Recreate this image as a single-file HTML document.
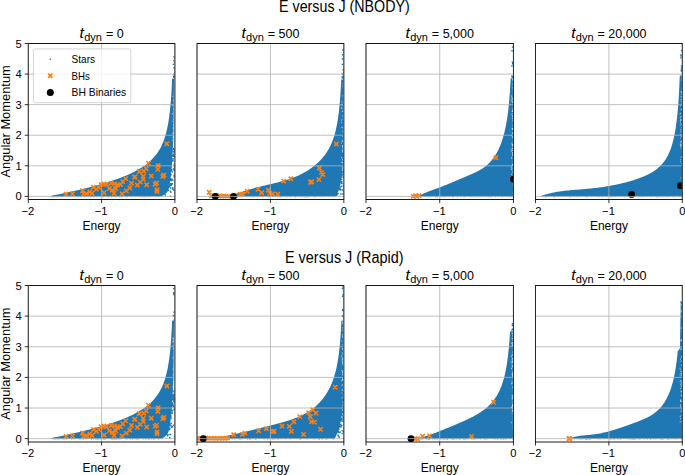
<!DOCTYPE html>
<html><head><meta charset="utf-8"><title>E versus J</title>
<style>html,body{margin:0;padding:0;background:#fff}body{width:685px;height:475px;position:relative;overflow:hidden;font-family:"Liberation Sans",sans-serif}</style></head>
<body>
<svg width="685" height="475" viewBox="0 0 685 475" style="position:absolute;left:0;top:0;font-family:'Liberation Sans',sans-serif" fill="#000">
<defs>
<clipPath id="c00"><rect x="28.3" y="43.5" width="146.6" height="156.0"/></clipPath>
<clipPath id="c01"><rect x="197.0" y="43.5" width="146.85000000000002" height="156.0"/></clipPath>
<clipPath id="c02"><rect x="366.0" y="43.5" width="147.45000000000005" height="156.0"/></clipPath>
<clipPath id="c03"><rect x="535.5" y="43.5" width="146.79999999999995" height="156.0"/></clipPath>
<clipPath id="c10"><rect x="28.3" y="285.5" width="146.6" height="156.5"/></clipPath>
<clipPath id="c11"><rect x="197.0" y="285.5" width="146.85000000000002" height="156.5"/></clipPath>
<clipPath id="c12"><rect x="366.0" y="285.5" width="147.45000000000005" height="156.5"/></clipPath>
<clipPath id="c13"><rect x="535.5" y="285.5" width="146.79999999999995" height="156.5"/></clipPath>
</defs>
<rect width="685" height="475" fill="#fff"/>
<g clip-path="url(#c00)">
<path d="M50.83 196.25 L52.42 195.46 L54.82 194.99 L57.95 194.38 L61.67 193.63 L65.84 192.78 L70.30 191.83 L74.94 190.81 L79.64 189.73 L84.30 188.63 L88.86 187.50 L93.25 186.36 L97.45 185.23 L101.42 184.11 L105.17 183.00 L108.68 181.91 L111.96 180.84 L115.02 179.80 L117.86 178.79 L120.51 177.80 L122.96 176.84 L125.25 175.91 L127.37 175.01 L129.34 174.13 L131.18 173.27 L132.89 172.44 L134.48 171.64 L135.97 170.85 L137.37 170.09 L138.67 169.35 L139.89 168.62 L141.04 167.92 L142.12 167.23 L143.13 166.56 L144.09 165.90 L144.99 165.26 L145.84 164.63 L146.65 164.02 L147.41 163.42 L148.14 162.83 L148.83 162.25 L150.55 160.72 L153.92 157.27 L156.47 154.16 L158.46 151.30 L160.05 148.64 L161.35 146.15 L162.44 143.79 L163.37 141.55 L164.16 139.41 L164.84 137.35 L165.44 135.37 L165.98 133.47 L166.45 131.62 L166.87 129.83 L167.25 128.09 L167.60 126.39 L167.91 124.74 L168.20 123.13 L168.46 121.56 L168.71 120.02 L168.93 118.51 L169.14 117.03 L169.33 115.58 L169.51 114.16 L169.68 112.76 L169.83 111.39 L169.98 110.04 L170.12 108.71 L170.25 107.40 L170.37 106.11 L170.49 104.84 L170.60 103.59 L170.70 102.35 L170.80 101.13 L170.90 99.93 L170.99 98.74 L171.07 97.57 L171.15 96.41 L171.23 95.26 L171.31 94.13 L171.38 93.01 L171.45 91.90 L171.51 90.81 L171.57 89.72 L171.63 88.65 L171.69 87.59 L171.75 86.53 L171.80 85.49 L171.85 84.46 L171.90 83.44 L171.95 82.42 L172.00 81.42 L172.04 80.43 L172.08 79.44 L172.13 78.46 L174.02 78.67 L173.43 138.30 L172.70 150.53 L171.97 165.82 L170.50 179.28 L169.18 187.23 L167.57 191.81 L164.64 194.87 L160.97 196.40 L50.83 196.40Z" fill="#1f77b4"/>
<path d="M119.44 196.67h1v0.8h-1zM113.89 196.40h1v0.8h-1zM157.86 196.22h1v0.8h-1zM144.88 196.34h1v0.8h-1zM66.22 196.26h1v0.8h-1zM84.31 196.61h1v0.8h-1zM70.23 196.49h1v0.8h-1zM120.70 196.39h1v0.8h-1zM110.66 196.23h1v0.8h-1zM56.89 196.30h1v0.8h-1zM125.27 196.41h1v0.8h-1zM84.93 196.49h1v0.8h-1zM100.24 196.35h1v0.8h-1zM137.83 196.55h1v0.8h-1zM77.21 196.49h1v0.8h-1zM108.18 196.64h1v0.8h-1zM130.67 196.34h1v0.8h-1zM158.29 196.26h1v0.8h-1zM96.38 196.58h1v0.8h-1zM67.07 196.44h1v0.8h-1zM54.65 196.53h1v0.8h-1zM134.54 196.49h1v0.8h-1zM146.76 196.36h1v0.8h-1zM126.91 196.50h1v0.8h-1zM114.20 196.43h1v0.8h-1zM142.85 196.67h1v0.8h-1zM102.55 196.53h1v0.8h-1zM57.01 196.55h1v0.8h-1zM121.61 196.70h1v0.8h-1zM140.86 196.34h1v0.8h-1zM92.82 196.53h1v0.8h-1zM52.81 196.43h1v0.8h-1zM68.84 196.26h1v0.8h-1zM56.82 196.58h1v0.8h-1zM64.57 196.32h1v0.8h-1zM93.39 196.64h1v0.8h-1zM59.20 196.42h1v0.8h-1zM110.85 196.64h1v0.8h-1zM140.57 196.63h1v0.8h-1zM81.00 196.41h1v0.8h-1zM89.85 196.64h1v0.8h-1zM155.82 196.28h1v0.8h-1zM69.74 196.32h1v0.8h-1zM76.03 196.44h1v0.8h-1zM115.22 196.33h1v0.8h-1zM50.78 196.41h1v0.8h-1zM91.00 196.48h1v0.8h-1zM155.31 196.55h1v0.8h-1zM107.11 196.51h1v0.8h-1zM124.81 196.23h1v0.8h-1zM149.41 196.59h1v0.8h-1zM146.65 196.60h1v0.8h-1zM93.55 196.40h1v0.8h-1zM61.73 196.52h1v0.8h-1zM57.18 196.23h1v0.8h-1zM73.32 196.28h1v0.8h-1zM87.78 196.23h1v0.8h-1zM50.35 196.28h1v0.8h-1zM61.50 196.38h1v0.8h-1zM53.14 196.64h1v0.8h-1zM117.96 196.27h1v0.8h-1zM78.11 196.37h1v0.8h-1zM90.44 196.26h1v0.8h-1zM143.83 196.70h1v0.8h-1zM101.65 196.44h1v0.8h-1zM59.79 196.25h1v0.8h-1zM88.07 196.33h1v0.8h-1zM141.62 196.28h1v0.8h-1zM52.87 196.68h1v0.8h-1zM108.51 196.27h1v0.8h-1z" fill="#1f77b4" opacity="0.55"/>
<path d="M173.33 67.04h1.4v1.4h-1.4zM173.40 56.05h1.4v1.4h-1.4zM173.15 59.91h1.4v1.4h-1.4zM173.02 75.96h1.4v1.4h-1.4zM173.09 76.65h1.4v1.4h-1.4zM173.39 75.56h1.4v1.4h-1.4zM172.74 63.65h1.4v1.4h-1.4zM173.27 73.75h1.4v1.4h-1.4zM170.84 169.12h1.4v1.4h-1.4zM173.79 169.86h1.4v1.4h-1.4zM172.95 153.46h1.4v1.4h-1.4zM169.96 182.92h1.4v1.4h-1.4zM171.85 187.53h1.4v1.4h-1.4zM172.82 169.64h1.4v1.4h-1.4zM169.97 179.57h1.4v1.4h-1.4zM173.85 155.99h1.4v1.4h-1.4zM173.26 153.98h1.4v1.4h-1.4zM173.03 155.66h1.4v1.4h-1.4zM170.47 184.61h1.4v1.4h-1.4zM169.84 178.30h1.4v1.4h-1.4zM164.73 194.33h1.4v1.4h-1.4zM171.66 183.02h1.4v1.4h-1.4zM172.53 148.90h1.4v1.4h-1.4zM173.87 149.85h1.4v1.4h-1.4zM172.39 148.97h1.4v1.4h-1.4zM169.16 184.91h1.4v1.4h-1.4zM168.92 186.08h1.4v1.4h-1.4zM173.47 165.17h1.4v1.4h-1.4zM172.38 154.58h1.4v1.4h-1.4zM173.09 163.75h1.4v1.4h-1.4zM170.13 191.55h1.4v1.4h-1.4zM173.23 151.19h1.4v1.4h-1.4zM172.23 159.00h1.4v1.4h-1.4zM172.06 186.97h1.4v1.4h-1.4zM172.57 179.43h1.4v1.4h-1.4zM172.47 148.16h1.4v1.4h-1.4zM173.57 176.06h1.4v1.4h-1.4zM171.62 160.24h1.4v1.4h-1.4zM167.70 189.48h1.4v1.4h-1.4zM173.30 151.43h1.4v1.4h-1.4zM172.21 188.55h1.4v1.4h-1.4zM173.00 147.74h1.4v1.4h-1.4zM171.28 178.56h1.4v1.4h-1.4zM167.52 189.29h1.4v1.4h-1.4zM172.97 148.20h1.4v1.4h-1.4zM173.56 169.94h1.4v1.4h-1.4zM173.15 174.47h1.4v1.4h-1.4zM171.89 155.28h1.4v1.4h-1.4zM169.61 183.38h1.4v1.4h-1.4zM170.93 183.93h1.4v1.4h-1.4zM170.17 183.01h1.4v1.4h-1.4zM172.96 189.29h1.4v1.4h-1.4zM170.91 178.39h1.4v1.4h-1.4zM173.46 167.16h1.4v1.4h-1.4zM173.40 175.12h1.4v1.4h-1.4zM171.74 171.16h1.4v1.4h-1.4zM170.73 170.09h1.4v1.4h-1.4zM170.48 174.17h1.4v1.4h-1.4zM169.73 195.51h1.4v1.4h-1.4zM169.82 187.27h1.4v1.4h-1.4zM172.39 160.22h1.4v1.4h-1.4zM171.01 179.75h1.4v1.4h-1.4zM172.89 168.52h1.4v1.4h-1.4zM169.63 190.51h1.4v1.4h-1.4zM169.53 183.54h1.4v1.4h-1.4zM172.34 157.91h1.4v1.4h-1.4zM172.80 168.22h1.4v1.4h-1.4zM172.43 151.05h1.4v1.4h-1.4z" fill="#1f77b4"/>
<path d="M172.88 128.06h0.8v1.2h-0.8zM172.60 136.66h0.8v1.2h-0.8zM172.84 141.78h0.8v1.2h-0.8zM172.24 139.58h0.8v1.2h-0.8zM172.34 120.64h0.8v1.2h-0.8zM173.24 99.84h0.8v1.2h-0.8zM172.24 132.60h0.8v1.2h-0.8zM173.42 108.59h0.8v1.2h-0.8zM172.97 170.10h0.8v1.2h-0.8zM173.27 174.30h0.8v1.2h-0.8zM172.64 174.25h0.8v1.2h-0.8zM172.31 113.39h0.8v1.2h-0.8zM172.57 167.29h0.8v1.2h-0.8zM173.41 123.98h0.8v1.2h-0.8zM172.20 104.92h0.8v1.2h-0.8zM172.22 161.71h0.8v1.2h-0.8zM172.91 146.41h0.8v1.2h-0.8zM172.40 95.75h0.8v1.2h-0.8zM172.99 166.68h0.8v1.2h-0.8zM173.12 136.36h0.8v1.2h-0.8zM173.15 163.75h0.8v1.2h-0.8zM173.59 118.68h0.8v1.2h-0.8zM172.97 133.07h0.8v1.2h-0.8zM173.13 178.96h0.8v1.2h-0.8zM172.87 127.09h0.8v1.2h-0.8zM172.18 175.01h0.8v1.2h-0.8zM172.20 113.01h0.8v1.2h-0.8zM173.23 171.54h0.8v1.2h-0.8z" fill="#fff" opacity="0.6"/>
<path d="M63.97 192.11l4.3 4.3M63.97 196.41l4.3 -4.3M70.35 191.65l4.3 4.3M70.35 195.95l4.3 -4.3M80.39 188.53l4.3 4.3M80.39 192.83l4.3 -4.3M81.49 191.65l4.3 4.3M81.49 195.95l4.3 -4.3M84.42 191.34l4.3 4.3M84.42 195.64l4.3 -4.3M87.72 189.66l4.3 4.3M87.72 193.96l4.3 -4.3M89.92 191.19l4.3 4.3M89.92 195.49l4.3 -4.3M91.39 185.08l4.3 4.3M91.39 189.38l4.3 -4.3M94.32 187.00l4.3 4.3M94.32 191.30l4.3 -4.3M96.66 185.26l4.3 4.3M96.66 189.56l4.3 -4.3M99.01 182.32l4.3 4.3M99.01 186.62l4.3 -4.3M101.94 181.71l4.3 4.3M101.94 186.01l4.3 -4.3M101.94 190.58l4.3 4.3M101.94 194.88l4.3 -4.3M104.29 182.32l4.3 4.3M104.29 186.62l4.3 -4.3M107.15 186.42l4.3 4.3M107.15 190.72l4.3 -4.3M108.98 181.10l4.3 4.3M108.98 185.40l4.3 -4.3M110.08 188.13l4.3 4.3M110.08 192.43l4.3 -4.3M111.91 191.19l4.3 4.3M111.91 195.49l4.3 -4.3M112.42 181.71l4.3 4.3M112.42 186.01l4.3 -4.3M113.60 186.42l4.3 4.3M113.60 190.72l4.3 -4.3M115.36 182.94l4.3 4.3M115.36 187.24l4.3 -4.3M118.29 182.32l4.3 4.3M118.29 186.62l4.3 -4.3M119.97 191.65l4.3 4.3M119.97 195.95l4.3 -4.3M120.63 179.42l4.3 4.3M120.63 183.72l4.3 -4.3M123.57 176.51l4.3 4.3M123.57 180.81l4.3 -4.3M124.15 188.75l4.3 4.3M124.15 193.05l4.3 -4.3M127.67 185.84l4.3 4.3M127.67 190.14l4.3 -4.3M129.36 181.10l4.3 4.3M129.36 185.40l4.3 -4.3M132.29 174.98l4.3 4.3M132.29 179.28l4.3 -4.3M146.36 160.98l4.3 4.3M146.36 165.28l4.3 -4.3M156.04 163.36l4.3 4.3M156.04 167.66l4.3 -4.3M155.67 167.19l4.3 4.3M155.67 171.49l4.3 -4.3M144.02 166.58l4.3 4.3M144.02 170.88l4.3 -4.3M141.67 168.87l4.3 4.3M141.67 173.17l4.3 -4.3M136.98 169.48l4.3 4.3M136.98 173.78l4.3 -4.3M141.08 174.19l4.3 4.3M141.08 178.49l4.3 -4.3M132.87 174.77l4.3 4.3M132.87 179.07l4.3 -4.3M149.07 173.82l4.3 4.3M149.07 178.12l4.3 -4.3M160.66 174.37l4.3 4.3M160.66 178.67l4.3 -4.3M161.75 172.84l4.3 4.3M161.75 177.14l4.3 -4.3M141.08 177.13l4.3 4.3M141.08 181.43l4.3 -4.3M138.15 180.00l4.3 4.3M138.15 184.30l4.3 -4.3M135.22 182.94l4.3 4.3M135.22 187.24l4.3 -4.3M144.53 182.69l4.3 4.3M144.53 186.99l4.3 -4.3M152.96 182.02l4.3 4.3M152.96 186.32l4.3 -4.3M154.43 180.79l4.3 4.3M154.43 185.09l4.3 -4.3M154.86 187.58l4.3 4.3M154.86 191.88l4.3 -4.3M154.86 189.36l4.3 4.3M154.86 193.66l4.3 -4.3M164.69 141.65l4.3 4.3M164.69 145.95l4.3 -4.3" stroke="#ff7f0e" stroke-width="1.6" fill="none"/>
</g>
<path d="M28.30 43.5V199.5M101.60 43.5V199.5M174.90 43.5V199.5M28.3 196.40H174.9M28.3 165.82H174.9M28.3 135.24H174.9M28.3 104.66H174.9M28.3 74.08H174.9M28.3 43.50H174.9" stroke="#b0b0b0" stroke-width="0.8" fill="none"/>
<path d="M28.3 43.5H174.9M28.3 199.5H174.9" stroke="#000" stroke-width="0.9" fill="none"/>
<path d="M28.3 43.1V199.9M174.9 43.1V199.9" stroke="#000" stroke-width="0.8" fill="none"/>
<path d="M28.30 199.5v3.6M101.60 199.5v3.6M174.90 199.5v3.6M28.3 196.40h-3.6M28.3 165.82h-3.6M28.3 135.24h-3.6M28.3 104.66h-3.6M28.3 74.08h-3.6M28.3 43.50h-3.6" stroke="#000" stroke-width="0.8" fill="none"/>
<text x="27.90" y="214.70" font-size="11.2" text-anchor="middle">−2</text>
<text x="101.20" y="214.70" font-size="11.2" text-anchor="middle">−1</text>
<text x="174.90" y="214.70" font-size="11.2" text-anchor="middle">0</text>
<text x="21.70" y="200.40" font-size="11.2" text-anchor="end">0</text>
<text x="21.70" y="169.82" font-size="11.2" text-anchor="end">1</text>
<text x="21.70" y="139.24" font-size="11.2" text-anchor="end">2</text>
<text x="21.70" y="108.66" font-size="11.2" text-anchor="end">3</text>
<text x="21.70" y="78.08" font-size="11.2" text-anchor="end">4</text>
<text x="21.70" y="47.50" font-size="11.2" text-anchor="end">5</text>
<text x="101.60" y="229.70" font-size="13" text-anchor="middle" textLength="38" lengthAdjust="spacingAndGlyphs">Energy</text>
<text x="101.60" y="37.9" font-size="12.5" text-anchor="middle"><tspan font-style="italic" font-size="15.5">t</tspan><tspan font-size="11" dy="2.6" dx="0.3">dyn</tspan><tspan dy="-2.6" dx="0.5"> = 0</tspan></text>
<g clip-path="url(#c01)">
<path d="M224.90 196.25 L226.54 196.03 L228.17 195.75 L229.78 195.42 L231.39 195.04 L232.98 194.62 L234.55 194.18 L236.12 193.72 L237.67 193.25 L239.21 192.77 L240.74 192.29 L242.26 191.80 L243.76 191.33 L245.25 190.86 L246.73 190.39 L248.20 189.94 L249.66 189.50 L251.10 189.07 L252.53 188.66 L253.95 188.26 L255.36 187.87 L256.75 187.49 L258.13 187.12 L259.50 186.77 L260.86 186.42 L262.21 186.09 L263.54 185.76 L264.86 185.45 L266.17 185.14 L267.47 184.83 L268.76 184.53 L270.03 184.23 L271.30 183.94 L272.55 183.65 L273.79 183.35 L275.01 183.06 L276.23 182.77 L277.43 182.47 L278.63 182.17 L279.81 181.87 L280.97 181.56 L282.13 181.25 L283.27 180.93 L284.41 180.61 L285.53 180.28 L286.64 179.94 L287.74 179.59 L288.82 179.24 L289.90 178.87 L290.96 178.50 L292.01 178.12 L293.06 177.73 L294.08 177.33 L295.10 176.92 L296.11 176.50 L297.10 176.07 L298.09 175.63 L299.06 175.19 L300.02 174.73 L300.97 174.26 L301.90 173.79 L302.83 173.30 L303.75 172.80 L304.65 172.30 L305.54 171.78 L306.42 171.26 L307.29 170.72 L308.15 170.18 L309.00 169.63 L309.84 169.07 L310.66 168.50 L311.48 167.92 L312.28 167.33 L313.08 166.73 L313.86 166.12 L314.63 165.50 L315.39 164.87 L316.14 164.24 L316.88 163.59 L317.60 162.93 L318.32 162.26 L319.02 161.58 L319.72 160.89 L320.40 160.19 L321.08 159.47 L321.74 158.74 L322.39 158.00 L323.03 157.24 L323.66 156.47 L324.28 155.69 L324.89 154.88 L325.49 154.06 L326.08 153.23 L326.66 152.37 L327.23 151.49 L327.78 150.59 L328.33 149.67 L328.87 148.73 L329.40 147.76 L329.91 146.76 L330.42 145.74 L330.91 144.68 L331.40 143.59 L331.87 142.47 L332.34 141.31 L332.80 140.11 L333.24 138.87 L333.68 137.59 L334.10 136.26 L334.52 134.88 L334.92 133.44 L335.32 131.95 L335.70 130.39 L336.08 128.77 L336.45 127.07 L336.80 125.30 L337.15 123.45 L337.49 121.50 L337.82 119.47 L338.14 117.32 L338.45 115.07 L338.75 112.69 L339.04 110.18 L339.32 107.53 L339.59 104.72 L339.85 101.73 L340.11 98.56 L340.35 95.19 L340.59 91.58 L340.82 87.73 L341.03 83.60 L341.24 79.43 L343.26 79.58 L343.26 150.53 L342.68 165.82 L341.50 179.58 L339.44 188.75 L336.14 196.40 L224.90 196.40Z" fill="#1f77b4"/>
<path d="M294.98 196.60h1v0.8h-1zM233.72 196.63h1v0.8h-1zM231.81 196.63h1v0.8h-1zM274.88 196.37h1v0.8h-1zM285.92 196.66h1v0.8h-1zM254.20 196.26h1v0.8h-1zM283.01 196.32h1v0.8h-1zM236.58 196.28h1v0.8h-1zM230.01 196.30h1v0.8h-1zM259.11 196.35h1v0.8h-1zM308.89 196.34h1v0.8h-1zM280.03 196.29h1v0.8h-1zM263.00 196.21h1v0.8h-1zM252.26 196.21h1v0.8h-1zM305.95 196.48h1v0.8h-1zM245.48 196.44h1v0.8h-1zM328.37 196.25h1v0.8h-1zM315.50 196.42h1v0.8h-1zM279.46 196.62h1v0.8h-1zM268.13 196.45h1v0.8h-1zM300.91 196.69h1v0.8h-1zM262.52 196.62h1v0.8h-1zM303.02 196.52h1v0.8h-1zM269.42 196.37h1v0.8h-1zM230.45 196.26h1v0.8h-1zM232.27 196.57h1v0.8h-1zM252.83 196.28h1v0.8h-1zM233.80 196.62h1v0.8h-1zM321.24 196.54h1v0.8h-1zM255.76 196.32h1v0.8h-1zM257.00 196.43h1v0.8h-1zM241.93 196.42h1v0.8h-1zM253.68 196.68h1v0.8h-1zM332.59 196.47h1v0.8h-1zM251.59 196.68h1v0.8h-1zM258.84 196.38h1v0.8h-1zM224.52 196.39h1v0.8h-1zM277.20 196.45h1v0.8h-1zM246.76 196.45h1v0.8h-1zM224.95 196.33h1v0.8h-1zM234.39 196.40h1v0.8h-1zM229.04 196.21h1v0.8h-1zM258.25 196.32h1v0.8h-1zM289.54 196.46h1v0.8h-1zM307.89 196.53h1v0.8h-1zM304.05 196.64h1v0.8h-1zM267.73 196.36h1v0.8h-1zM333.94 196.27h1v0.8h-1zM304.96 196.52h1v0.8h-1zM229.27 196.62h1v0.8h-1zM323.62 196.51h1v0.8h-1zM306.03 196.61h1v0.8h-1zM239.90 196.46h1v0.8h-1zM280.51 196.62h1v0.8h-1zM313.91 196.61h1v0.8h-1zM289.37 196.65h1v0.8h-1zM300.37 196.55h1v0.8h-1zM249.98 196.22h1v0.8h-1zM239.21 196.38h1v0.8h-1zM236.07 196.62h1v0.8h-1zM286.53 196.51h1v0.8h-1zM294.06 196.54h1v0.8h-1zM278.83 196.20h1v0.8h-1zM313.14 196.57h1v0.8h-1zM280.35 196.47h1v0.8h-1zM297.74 196.23h1v0.8h-1zM306.36 196.33h1v0.8h-1zM232.68 196.33h1v0.8h-1zM305.53 196.30h1v0.8h-1zM306.70 196.69h1v0.8h-1z" fill="#1f77b4" opacity="0.55"/>
<path d="M341.73 77.46h1.4v1.4h-1.4zM342.30 69.13h1.4v1.4h-1.4zM341.61 63.65h1.4v1.4h-1.4zM342.19 49.33h1.4v1.4h-1.4zM341.61 73.49h1.4v1.4h-1.4zM341.80 58.29h1.4v1.4h-1.4zM342.37 75.66h1.4v1.4h-1.4zM342.04 54.05h1.4v1.4h-1.4zM341.59 76.27h1.4v1.4h-1.4zM341.71 171.53h1.4v1.4h-1.4zM342.15 172.26h1.4v1.4h-1.4zM342.51 158.17h1.4v1.4h-1.4zM342.02 164.25h1.4v1.4h-1.4zM338.98 188.49h1.4v1.4h-1.4zM342.28 159.34h1.4v1.4h-1.4zM341.74 167.92h1.4v1.4h-1.4zM337.38 192.73h1.4v1.4h-1.4zM342.49 162.82h1.4v1.4h-1.4zM342.17 162.64h1.4v1.4h-1.4zM341.88 170.43h1.4v1.4h-1.4zM341.35 172.88h1.4v1.4h-1.4zM342.50 151.97h1.4v1.4h-1.4zM342.56 149.89h1.4v1.4h-1.4zM342.41 173.24h1.4v1.4h-1.4zM341.41 173.71h1.4v1.4h-1.4zM342.54 185.43h1.4v1.4h-1.4zM340.74 185.39h1.4v1.4h-1.4zM339.91 188.76h1.4v1.4h-1.4zM341.54 189.21h1.4v1.4h-1.4zM342.60 170.81h1.4v1.4h-1.4zM342.18 161.29h1.4v1.4h-1.4zM342.60 151.78h1.4v1.4h-1.4zM335.97 194.48h1.4v1.4h-1.4zM341.79 171.64h1.4v1.4h-1.4zM340.43 180.93h1.4v1.4h-1.4zM341.09 178.87h1.4v1.4h-1.4zM342.38 154.59h1.4v1.4h-1.4zM342.69 158.97h1.4v1.4h-1.4zM342.26 189.83h1.4v1.4h-1.4zM342.74 160.81h1.4v1.4h-1.4zM340.70 181.52h1.4v1.4h-1.4zM342.85 176.48h1.4v1.4h-1.4zM342.01 166.87h1.4v1.4h-1.4zM341.34 174.76h1.4v1.4h-1.4zM336.59 193.34h1.4v1.4h-1.4zM342.43 154.86h1.4v1.4h-1.4zM342.59 149.92h1.4v1.4h-1.4zM340.87 182.70h1.4v1.4h-1.4zM339.81 186.41h1.4v1.4h-1.4zM342.74 152.43h1.4v1.4h-1.4zM342.73 164.83h1.4v1.4h-1.4zM342.34 168.83h1.4v1.4h-1.4zM340.24 193.28h1.4v1.4h-1.4zM342.24 173.64h1.4v1.4h-1.4zM342.11 164.17h1.4v1.4h-1.4zM342.08 193.30h1.4v1.4h-1.4zM339.45 189.47h1.4v1.4h-1.4zM341.06 178.89h1.4v1.4h-1.4zM342.83 159.54h1.4v1.4h-1.4zM341.34 182.97h1.4v1.4h-1.4zM341.27 180.98h1.4v1.4h-1.4zM341.10 176.40h1.4v1.4h-1.4zM339.08 187.79h1.4v1.4h-1.4zM342.61 151.37h1.4v1.4h-1.4z" fill="#1f77b4"/>
<path d="M341.24 161.67h0.8v1.2h-0.8zM341.91 95.19h0.8v1.2h-0.8zM342.29 168.56h0.8v1.2h-0.8zM342.07 172.74h0.8v1.2h-0.8zM342.22 172.71h0.8v1.2h-0.8zM341.73 158.39h0.8v1.2h-0.8zM341.47 104.54h0.8v1.2h-0.8zM341.96 145.17h0.8v1.2h-0.8zM342.02 135.63h0.8v1.2h-0.8zM342.48 151.55h0.8v1.2h-0.8zM341.15 156.75h0.8v1.2h-0.8zM341.83 169.73h0.8v1.2h-0.8zM341.30 126.60h0.8v1.2h-0.8zM342.17 162.02h0.8v1.2h-0.8zM341.98 159.24h0.8v1.2h-0.8zM341.17 142.33h0.8v1.2h-0.8zM341.29 107.84h0.8v1.2h-0.8zM342.52 178.64h0.8v1.2h-0.8zM341.25 119.76h0.8v1.2h-0.8zM341.71 139.99h0.8v1.2h-0.8zM341.99 180.49h0.8v1.2h-0.8zM341.36 101.15h0.8v1.2h-0.8zM341.14 107.26h0.8v1.2h-0.8zM342.41 159.24h0.8v1.2h-0.8zM341.80 167.29h0.8v1.2h-0.8zM341.19 122.11h0.8v1.2h-0.8zM341.62 118.71h0.8v1.2h-0.8zM341.90 115.02h0.8v1.2h-0.8z" fill="#fff" opacity="0.6"/>
<path d="M343.20 119.03h1.2v1.2h-1.2zM342.98 98.42h1.2v1.2h-1.2zM342.49 86.14h1.2v1.2h-1.2zM343.10 141.15h1.2v1.2h-1.2zM342.50 145.79h1.2v1.2h-1.2zM343.12 105.90h1.2v1.2h-1.2zM342.63 162.00h1.2v1.2h-1.2zM342.79 116.23h1.2v1.2h-1.2zM342.54 148.31h1.2v1.2h-1.2zM342.90 167.34h1.2v1.2h-1.2zM342.12 127.14h1.2v1.2h-1.2zM342.21 110.72h1.2v1.2h-1.2zM342.97 125.84h1.2v1.2h-1.2zM342.12 146.22h1.2v1.2h-1.2zM342.89 105.36h1.2v1.2h-1.2zM342.66 166.33h1.2v1.2h-1.2zM342.76 108.05h1.2v1.2h-1.2zM342.47 145.31h1.2v1.2h-1.2zM342.98 85.67h1.2v1.2h-1.2zM342.85 165.23h1.2v1.2h-1.2zM342.45 130.72h1.2v1.2h-1.2zM342.31 150.59h1.2v1.2h-1.2zM342.66 102.28h1.2v1.2h-1.2zM342.11 149.95h1.2v1.2h-1.2zM342.29 140.44h1.2v1.2h-1.2zM342.99 147.67h1.2v1.2h-1.2zM342.90 100.37h1.2v1.2h-1.2zM342.67 83.28h1.2v1.2h-1.2zM342.99 151.55h1.2v1.2h-1.2zM342.47 131.04h1.2v1.2h-1.2zM343.08 83.56h1.2v1.2h-1.2zM343.00 133.14h1.2v1.2h-1.2zM343.08 81.30h1.2v1.2h-1.2zM343.18 163.65h1.2v1.2h-1.2z" fill="#fff" opacity="0.8"/>
<rect x="210.22" y="194.90" width="27.61" height="3.0" fill="#ff7f0e" opacity="0.85"/>
<path d="M209.22 194.01l4.0 4.0M209.22 198.01l4.0 -4.0M211.59 193.52l4.0 4.0M211.59 197.52l4.0 -4.0M213.77 193.40l4.0 4.0M213.77 197.40l4.0 -4.0M216.19 194.07l4.0 4.0M216.19 198.07l4.0 -4.0M217.71 193.46l4.0 4.0M217.71 197.46l4.0 -4.0M219.91 194.37l4.0 4.0M219.91 198.37l4.0 -4.0M222.01 194.02l4.0 4.0M222.01 198.02l4.0 -4.0M223.76 194.07l4.0 4.0M223.76 198.07l4.0 -4.0M225.26 194.40l4.0 4.0M225.26 198.40l4.0 -4.0M226.89 194.05l4.0 4.0M226.89 198.05l4.0 -4.0M229.34 194.28l4.0 4.0M229.34 198.28l4.0 -4.0M231.80 194.19l4.0 4.0M231.80 198.19l4.0 -4.0M233.53 193.58l4.0 4.0M233.53 197.58l4.0 -4.0" stroke="#ff7f0e" stroke-width="1.2" fill="none"/>
<path d="M207.04 190.15l4.3 4.3M207.04 194.45l4.3 -4.3M238.17 192.11l4.3 4.3M238.17 196.41l4.3 -4.3M240.37 192.11l4.3 4.3M240.37 196.41l4.3 -4.3M245.00 189.05l4.3 4.3M245.00 193.35l4.3 -4.3M255.79 187.06l4.3 4.3M255.79 191.36l4.3 -4.3M259.46 190.58l4.3 4.3M259.46 194.88l4.3 -4.3M266.07 188.13l4.3 4.3M266.07 192.43l4.3 -4.3M267.54 191.19l4.3 4.3M267.54 195.49l4.3 -4.3M270.48 191.80l4.3 4.3M270.48 196.10l4.3 -4.3M275.62 192.11l4.3 4.3M275.62 196.41l4.3 -4.3M281.71 178.96l4.3 4.3M281.71 183.26l4.3 -4.3M288.69 176.64l4.3 4.3M288.69 180.94l4.3 -4.3M308.29 180.18l4.3 4.3M308.29 184.48l4.3 -4.3M309.39 179.57l4.3 4.3M309.39 183.87l4.3 -4.3M316.74 177.43l4.3 4.3M316.74 181.73l4.3 -4.3M317.18 165.81l4.3 4.3M317.18 170.11l4.3 -4.3M319.31 170.24l4.3 4.3M319.31 174.54l4.3 -4.3M320.70 172.32l4.3 4.3M320.70 176.62l4.3 -4.3M334.21 141.81l4.3 4.3M334.21 146.11l4.3 -4.3" stroke="#ff7f0e" stroke-width="1.6" fill="none"/>
<circle cx="215.36" cy="196.40" r="3.4" fill="#000"/>
<circle cx="233.49" cy="196.40" r="3.4" fill="#000"/>
</g>
<path d="M197.00 43.5V199.5M270.43 43.5V199.5M343.85 43.5V199.5M197.0 196.40H343.85M197.0 165.82H343.85M197.0 135.24H343.85M197.0 104.66H343.85M197.0 74.08H343.85M197.0 43.50H343.85" stroke="#b0b0b0" stroke-width="0.8" fill="none"/>
<path d="M197.0 43.5H343.85M197.0 199.5H343.85" stroke="#000" stroke-width="0.9" fill="none"/>
<path d="M197.0 43.1V199.9M343.85 43.1V199.9" stroke="#000" stroke-width="0.8" fill="none"/>
<path d="M197.00 199.5v3.6M270.43 199.5v3.6M343.85 199.5v3.6" stroke="#000" stroke-width="0.8" fill="none"/>
<text x="196.60" y="214.70" font-size="11.2" text-anchor="middle">−2</text>
<text x="270.03" y="214.70" font-size="11.2" text-anchor="middle">−1</text>
<text x="343.85" y="214.70" font-size="11.2" text-anchor="middle">0</text>
<text x="270.43" y="229.70" font-size="13" text-anchor="middle" textLength="38" lengthAdjust="spacingAndGlyphs">Energy</text>
<text x="270.43" y="37.9" font-size="12.5" text-anchor="middle"><tspan font-style="italic" font-size="15.5">t</tspan><tspan font-size="11" dy="2.6" dx="0.3">dyn</tspan><tspan dy="-2.6" dx="0.5"> = 500</tspan></text>
<g clip-path="url(#c02)">
<path d="M418.34 196.25 L419.66 195.47 L420.96 194.77 L422.25 194.13 L423.53 193.54 L424.80 192.99 L426.06 192.47 L427.31 191.98 L428.56 191.51 L429.79 191.06 L431.01 190.61 L432.22 190.17 L433.42 189.74 L434.62 189.31 L435.80 188.87 L436.97 188.44 L438.14 188.01 L439.29 187.57 L440.43 187.14 L441.57 186.70 L442.69 186.26 L443.81 185.81 L444.91 185.37 L446.01 184.92 L447.10 184.48 L448.17 184.03 L449.24 183.59 L450.30 183.15 L451.34 182.71 L452.38 182.27 L453.41 181.83 L454.43 181.40 L455.44 180.98 L456.44 180.55 L457.43 180.14 L458.41 179.72 L459.38 179.31 L460.35 178.91 L461.30 178.51 L462.24 178.12 L463.18 177.73 L464.10 177.34 L465.02 176.96 L465.92 176.58 L466.82 176.21 L467.71 175.83 L468.59 175.46 L469.45 175.09 L470.31 174.72 L471.16 174.35 L472.01 173.98 L472.84 173.61 L473.66 173.23 L474.47 172.85 L475.28 172.47 L476.07 172.08 L476.86 171.69 L477.64 171.29 L478.40 170.88 L479.16 170.47 L479.91 170.04 L480.65 169.61 L481.39 169.17 L482.11 168.71 L482.82 168.24 L483.53 167.76 L484.22 167.27 L484.91 166.76 L485.59 166.23 L486.26 165.70 L486.92 165.14 L487.57 164.57 L488.21 163.98 L488.84 163.37 L489.47 162.75 L490.09 162.11 L490.69 161.44 L491.29 160.76 L491.88 160.06 L492.46 159.34 L493.04 158.59 L493.60 157.83 L494.16 157.04 L494.70 156.23 L495.24 155.40 L495.77 154.54 L496.29 153.66 L496.81 152.76 L497.31 151.83 L497.81 150.88 L498.29 149.90 L498.77 148.89 L499.24 147.86 L499.71 146.80 L500.16 145.71 L500.61 144.59 L501.04 143.44 L501.47 142.26 L501.89 141.05 L502.31 139.80 L502.71 138.52 L503.11 137.20 L503.49 135.85 L503.87 134.45 L504.25 133.01 L504.61 131.53 L504.97 130.00 L505.32 128.42 L505.66 126.79 L505.99 125.10 L506.31 123.36 L506.63 121.55 L506.94 119.67 L507.24 117.73 L507.53 115.70 L507.82 113.60 L508.09 111.40 L508.37 109.11 L508.63 106.71 L508.88 104.20 L509.13 101.57 L509.37 98.81 L509.60 95.90 L509.83 92.84 L510.05 89.60 L510.26 86.18 L510.46 82.54 L510.65 78.68 L510.84 78.21 L512.86 78.36 L512.86 187.23 L512.57 196.40 L418.34 196.40Z" fill="#1f77b4"/>
<path d="M442.06 196.57h1v0.8h-1zM502.51 196.37h1v0.8h-1zM443.50 196.68h1v0.8h-1zM475.98 196.33h1v0.8h-1zM485.37 196.36h1v0.8h-1zM443.81 196.20h1v0.8h-1zM489.04 196.66h1v0.8h-1zM477.58 196.67h1v0.8h-1zM420.13 196.32h1v0.8h-1zM462.62 196.68h1v0.8h-1zM507.72 196.39h1v0.8h-1zM441.50 196.41h1v0.8h-1zM464.34 196.66h1v0.8h-1zM435.08 196.60h1v0.8h-1zM487.43 196.61h1v0.8h-1zM490.66 196.50h1v0.8h-1zM448.73 196.36h1v0.8h-1zM451.94 196.59h1v0.8h-1zM425.29 196.30h1v0.8h-1zM488.78 196.32h1v0.8h-1zM423.94 196.22h1v0.8h-1zM469.91 196.36h1v0.8h-1zM510.20 196.64h1v0.8h-1zM510.92 196.33h1v0.8h-1zM425.77 196.25h1v0.8h-1zM464.81 196.55h1v0.8h-1zM459.96 196.32h1v0.8h-1zM457.12 196.51h1v0.8h-1zM481.36 196.57h1v0.8h-1zM497.65 196.53h1v0.8h-1zM429.26 196.62h1v0.8h-1zM445.53 196.48h1v0.8h-1zM452.99 196.57h1v0.8h-1zM436.61 196.32h1v0.8h-1zM440.96 196.28h1v0.8h-1zM501.15 196.49h1v0.8h-1zM448.59 196.40h1v0.8h-1zM511.35 196.45h1v0.8h-1zM439.65 196.60h1v0.8h-1zM479.40 196.70h1v0.8h-1zM427.49 196.44h1v0.8h-1zM495.02 196.62h1v0.8h-1zM504.00 196.22h1v0.8h-1zM445.52 196.26h1v0.8h-1zM435.71 196.69h1v0.8h-1zM472.79 196.67h1v0.8h-1zM452.92 196.63h1v0.8h-1zM460.16 196.33h1v0.8h-1zM491.13 196.67h1v0.8h-1zM427.81 196.50h1v0.8h-1zM476.26 196.31h1v0.8h-1zM452.58 196.27h1v0.8h-1zM437.06 196.33h1v0.8h-1zM474.32 196.53h1v0.8h-1zM437.01 196.21h1v0.8h-1zM448.68 196.54h1v0.8h-1zM435.29 196.36h1v0.8h-1zM437.01 196.60h1v0.8h-1zM469.48 196.23h1v0.8h-1zM427.40 196.40h1v0.8h-1zM469.68 196.52h1v0.8h-1zM426.43 196.28h1v0.8h-1zM483.37 196.40h1v0.8h-1zM444.54 196.35h1v0.8h-1zM507.65 196.36h1v0.8h-1zM471.22 196.38h1v0.8h-1zM457.08 196.63h1v0.8h-1zM511.75 196.38h1v0.8h-1zM436.43 196.56h1v0.8h-1zM437.03 196.20h1v0.8h-1z" fill="#1f77b4" opacity="0.55"/>
<path d="M511.97 62.98h1.4v1.4h-1.4zM511.68 61.59h1.4v1.4h-1.4zM511.84 46.45h1.4v1.4h-1.4zM511.22 65.30h1.4v1.4h-1.4zM511.65 76.63h1.4v1.4h-1.4zM511.33 50.10h1.4v1.4h-1.4zM511.98 76.28h1.4v1.4h-1.4zM511.20 75.54h1.4v1.4h-1.4zM512.12 187.75h1.4v1.4h-1.4zM512.21 191.34h1.4v1.4h-1.4zM512.14 188.56h1.4v1.4h-1.4zM512.16 190.38h1.4v1.4h-1.4zM512.42 189.50h1.4v1.4h-1.4zM512.39 193.09h1.4v1.4h-1.4zM512.34 187.86h1.4v1.4h-1.4zM512.18 186.75h1.4v1.4h-1.4zM512.10 189.68h1.4v1.4h-1.4zM512.13 193.69h1.4v1.4h-1.4zM512.32 193.83h1.4v1.4h-1.4zM512.22 189.94h1.4v1.4h-1.4zM512.15 194.56h1.4v1.4h-1.4zM512.23 186.91h1.4v1.4h-1.4z" fill="#1f77b4"/>
<path d="M511.98 171.34h0.8v1.2h-0.8zM512.03 143.64h0.8v1.2h-0.8zM511.41 142.67h0.8v1.2h-0.8zM511.23 177.02h0.8v1.2h-0.8zM511.08 173.47h0.8v1.2h-0.8zM511.41 113.93h0.8v1.2h-0.8zM511.42 175.86h0.8v1.2h-0.8zM510.76 148.16h0.8v1.2h-0.8zM510.90 168.85h0.8v1.2h-0.8zM511.09 95.22h0.8v1.2h-0.8zM511.88 110.73h0.8v1.2h-0.8zM511.44 96.45h0.8v1.2h-0.8zM510.81 98.60h0.8v1.2h-0.8zM511.00 166.37h0.8v1.2h-0.8zM512.07 100.83h0.8v1.2h-0.8zM511.05 150.46h0.8v1.2h-0.8zM510.84 166.92h0.8v1.2h-0.8zM510.96 156.96h0.8v1.2h-0.8zM511.42 168.22h0.8v1.2h-0.8zM511.86 101.74h0.8v1.2h-0.8zM511.42 158.00h0.8v1.2h-0.8zM512.11 153.19h0.8v1.2h-0.8zM511.93 164.92h0.8v1.2h-0.8zM511.16 100.33h0.8v1.2h-0.8zM511.92 103.84h0.8v1.2h-0.8zM512.00 113.31h0.8v1.2h-0.8zM511.23 135.07h0.8v1.2h-0.8zM510.88 149.70h0.8v1.2h-0.8z" fill="#fff" opacity="0.6"/>
<path d="M512.17 118.02h1.2v1.2h-1.2zM512.73 88.39h1.2v1.2h-1.2zM512.11 78.40h1.2v1.2h-1.2zM511.91 132.59h1.2v1.2h-1.2zM511.68 144.31h1.2v1.2h-1.2zM512.43 116.02h1.2v1.2h-1.2zM512.33 99.07h1.2v1.2h-1.2zM511.97 152.28h1.2v1.2h-1.2zM511.88 163.91h1.2v1.2h-1.2zM512.10 145.32h1.2v1.2h-1.2zM512.16 79.20h1.2v1.2h-1.2zM512.48 108.20h1.2v1.2h-1.2zM512.81 168.12h1.2v1.2h-1.2zM512.12 154.76h1.2v1.2h-1.2zM512.25 129.15h1.2v1.2h-1.2zM512.69 87.22h1.2v1.2h-1.2zM512.08 147.71h1.2v1.2h-1.2zM512.85 166.26h1.2v1.2h-1.2zM512.72 136.15h1.2v1.2h-1.2zM512.59 135.95h1.2v1.2h-1.2zM512.16 115.45h1.2v1.2h-1.2zM512.11 149.80h1.2v1.2h-1.2zM512.69 125.29h1.2v1.2h-1.2zM512.56 83.50h1.2v1.2h-1.2zM512.74 154.76h1.2v1.2h-1.2zM511.82 110.51h1.2v1.2h-1.2zM512.38 97.48h1.2v1.2h-1.2zM512.84 144.36h1.2v1.2h-1.2zM512.19 109.90h1.2v1.2h-1.2zM512.09 136.57h1.2v1.2h-1.2zM511.74 128.11h1.2v1.2h-1.2zM512.56 101.88h1.2v1.2h-1.2zM512.80 86.50h1.2v1.2h-1.2zM512.37 120.17h1.2v1.2h-1.2z" fill="#fff" opacity="0.8"/>
<path d="M411.03 194.25l4.3 4.3M411.03 198.55l4.3 -4.3M413.25 193.64l4.3 4.3M413.25 197.94l4.3 -4.3M414.72 194.25l4.3 4.3M414.72 198.55l4.3 -4.3M416.93 193.64l4.3 4.3M416.93 197.94l4.3 -4.3M493.68 155.63l4.3 4.3M493.68 159.93l4.3 -4.3" stroke="#ff7f0e" stroke-width="1.6" fill="none"/>
<circle cx="513.45" cy="179.18" r="3.4" fill="#000"/>
</g>
<path d="M366.00 43.5V199.5M439.73 43.5V199.5M513.45 43.5V199.5M366.0 196.40H513.45M366.0 165.82H513.45M366.0 135.24H513.45M366.0 104.66H513.45M366.0 74.08H513.45M366.0 43.50H513.45" stroke="#b0b0b0" stroke-width="0.8" fill="none"/>
<path d="M366.0 43.5H513.45M366.0 199.5H513.45" stroke="#000" stroke-width="0.9" fill="none"/>
<path d="M366.0 43.1V199.9M513.45 43.1V199.9" stroke="#000" stroke-width="0.8" fill="none"/>
<path d="M366.00 199.5v3.6M439.73 199.5v3.6M513.45 199.5v3.6" stroke="#000" stroke-width="0.8" fill="none"/>
<text x="365.60" y="214.70" font-size="11.2" text-anchor="middle">−2</text>
<text x="439.33" y="214.70" font-size="11.2" text-anchor="middle">−1</text>
<text x="513.45" y="214.70" font-size="11.2" text-anchor="middle">0</text>
<text x="439.73" y="229.70" font-size="13" text-anchor="middle" textLength="38" lengthAdjust="spacingAndGlyphs">Energy</text>
<text x="439.73" y="37.9" font-size="12.5" text-anchor="middle"><tspan font-style="italic" font-size="15.5">t</tspan><tspan font-size="11" dy="2.6" dx="0.3">dyn</tspan><tspan dy="-2.6" dx="0.5"> = 5,000</tspan></text>
<g clip-path="url(#c03)">
<path d="M540.64 196.25 L542.59 195.51 L544.53 194.84 L546.45 194.24 L548.36 193.70 L550.25 193.21 L552.13 192.78 L554.00 192.39 L555.85 192.04 L557.68 191.72 L559.50 191.44 L561.31 191.19 L563.10 190.96 L564.88 190.75 L566.64 190.56 L568.39 190.38 L570.12 190.22 L571.84 190.07 L573.54 189.92 L575.23 189.79 L576.91 189.65 L578.57 189.52 L580.21 189.39 L581.85 189.26 L583.46 189.13 L585.07 189.00 L586.66 188.86 L588.23 188.72 L589.79 188.57 L591.34 188.42 L592.87 188.26 L594.39 188.10 L595.89 187.92 L597.38 187.75 L598.86 187.56 L600.32 187.37 L601.77 187.17 L603.20 186.96 L604.62 186.75 L606.03 186.53 L607.42 186.30 L608.79 186.06 L610.16 185.82 L611.51 185.57 L612.84 185.32 L614.16 185.06 L615.47 184.79 L616.77 184.52 L618.05 184.24 L619.31 183.95 L620.57 183.67 L621.81 183.37 L623.03 183.07 L624.24 182.77 L625.44 182.46 L626.63 182.14 L627.80 181.82 L628.95 181.50 L630.10 181.17 L631.23 180.84 L632.35 180.50 L633.45 180.16 L634.54 179.81 L635.62 179.46 L636.68 179.10 L637.73 178.74 L638.76 178.37 L639.79 177.99 L640.80 177.61 L641.79 177.23 L642.78 176.83 L643.75 176.43 L644.71 176.02 L645.65 175.60 L646.58 175.17 L647.50 174.74 L648.40 174.29 L649.30 173.83 L650.17 173.36 L651.04 172.88 L651.89 172.39 L652.73 171.88 L653.56 171.36 L654.38 170.82 L655.18 170.27 L655.97 169.70 L656.74 169.11 L657.51 168.50 L658.26 167.87 L659.00 167.23 L659.72 166.55 L660.44 165.86 L661.14 165.14 L661.83 164.39 L662.50 163.62 L663.17 162.82 L663.82 161.98 L664.46 161.12 L665.09 160.22 L665.70 159.28 L666.30 158.31 L666.89 157.30 L667.47 156.24 L668.04 155.15 L668.59 154.00 L669.13 152.81 L669.66 151.57 L670.18 150.27 L670.69 148.92 L671.18 147.51 L671.67 146.03 L672.14 144.49 L672.60 142.87 L673.05 141.18 L673.48 139.41 L673.91 137.55 L674.32 135.60 L674.73 133.56 L675.12 131.41 L675.50 129.14 L675.87 126.76 L676.22 124.25 L676.57 121.60 L676.90 118.80 L677.23 115.84 L677.54 112.69 L677.84 109.36 L678.14 105.82 L678.42 102.04 L678.69 98.01 L678.95 93.70 L679.20 89.07 L679.43 84.11 L679.66 78.75 L679.88 75.46 L682.59 75.61 L682.59 196.40 L540.64 196.40Z" fill="#1f77b4"/>
<path d="M666.39 196.59h1v0.8h-1zM641.69 196.20h1v0.8h-1zM660.01 196.57h1v0.8h-1zM606.19 196.57h1v0.8h-1zM604.37 196.31h1v0.8h-1zM555.08 196.32h1v0.8h-1zM545.65 196.37h1v0.8h-1zM646.56 196.55h1v0.8h-1zM660.14 196.56h1v0.8h-1zM577.90 196.48h1v0.8h-1zM602.04 196.59h1v0.8h-1zM614.42 196.33h1v0.8h-1zM631.27 196.68h1v0.8h-1zM570.94 196.64h1v0.8h-1zM542.30 196.33h1v0.8h-1zM573.66 196.57h1v0.8h-1zM674.24 196.57h1v0.8h-1zM586.54 196.64h1v0.8h-1zM586.78 196.32h1v0.8h-1zM668.97 196.52h1v0.8h-1zM638.49 196.53h1v0.8h-1zM679.11 196.43h1v0.8h-1zM659.34 196.55h1v0.8h-1zM661.87 196.42h1v0.8h-1zM643.00 196.49h1v0.8h-1zM583.82 196.31h1v0.8h-1zM628.52 196.24h1v0.8h-1zM669.43 196.27h1v0.8h-1zM543.96 196.25h1v0.8h-1zM672.01 196.37h1v0.8h-1zM560.27 196.21h1v0.8h-1zM546.05 196.55h1v0.8h-1zM630.12 196.55h1v0.8h-1zM644.73 196.23h1v0.8h-1zM623.96 196.38h1v0.8h-1zM656.20 196.61h1v0.8h-1zM666.66 196.23h1v0.8h-1zM663.33 196.66h1v0.8h-1zM674.19 196.25h1v0.8h-1zM569.34 196.26h1v0.8h-1zM545.03 196.62h1v0.8h-1zM655.41 196.52h1v0.8h-1zM657.26 196.52h1v0.8h-1zM580.93 196.25h1v0.8h-1zM554.03 196.58h1v0.8h-1zM569.24 196.36h1v0.8h-1zM600.29 196.21h1v0.8h-1zM576.58 196.34h1v0.8h-1zM641.74 196.38h1v0.8h-1zM585.68 196.68h1v0.8h-1zM611.65 196.63h1v0.8h-1zM627.91 196.22h1v0.8h-1zM598.75 196.42h1v0.8h-1zM649.87 196.37h1v0.8h-1zM640.17 196.47h1v0.8h-1zM570.88 196.63h1v0.8h-1zM553.04 196.61h1v0.8h-1zM564.32 196.20h1v0.8h-1zM568.82 196.58h1v0.8h-1zM678.95 196.20h1v0.8h-1zM609.81 196.45h1v0.8h-1zM653.24 196.29h1v0.8h-1zM610.35 196.37h1v0.8h-1zM658.22 196.33h1v0.8h-1zM674.13 196.34h1v0.8h-1zM570.62 196.55h1v0.8h-1zM610.88 196.25h1v0.8h-1zM630.50 196.24h1v0.8h-1zM651.99 196.55h1v0.8h-1zM651.85 196.51h1v0.8h-1z" fill="#1f77b4" opacity="0.55"/>
<path d="M680.81 67.28h1.4v1.4h-1.4zM680.86 49.90h1.4v1.4h-1.4zM680.04 57.22h1.4v1.4h-1.4zM680.69 70.34h1.4v1.4h-1.4zM680.42 55.38h1.4v1.4h-1.4zM680.15 54.31h1.4v1.4h-1.4zM680.59 69.30h1.4v1.4h-1.4zM680.82 65.27h1.4v1.4h-1.4z" fill="#1f77b4"/>
<path d="M680.43 177.60h0.8v1.2h-0.8zM680.00 112.78h0.8v1.2h-0.8zM680.09 137.66h0.8v1.2h-0.8zM680.81 140.84h0.8v1.2h-0.8zM680.43 128.82h0.8v1.2h-0.8zM679.69 117.07h0.8v1.2h-0.8zM680.18 143.69h0.8v1.2h-0.8zM680.40 116.37h0.8v1.2h-0.8zM679.96 160.94h0.8v1.2h-0.8zM679.88 105.15h0.8v1.2h-0.8zM679.77 120.57h0.8v1.2h-0.8zM680.08 122.32h0.8v1.2h-0.8zM680.56 141.65h0.8v1.2h-0.8zM680.88 126.71h0.8v1.2h-0.8zM679.87 144.58h0.8v1.2h-0.8zM680.09 119.45h0.8v1.2h-0.8zM680.40 159.10h0.8v1.2h-0.8zM680.11 141.53h0.8v1.2h-0.8zM680.03 145.46h0.8v1.2h-0.8zM680.75 100.86h0.8v1.2h-0.8zM679.88 124.47h0.8v1.2h-0.8zM680.30 147.23h0.8v1.2h-0.8zM680.96 97.06h0.8v1.2h-0.8zM680.78 133.99h0.8v1.2h-0.8zM679.64 113.57h0.8v1.2h-0.8zM680.87 136.05h0.8v1.2h-0.8zM680.22 131.31h0.8v1.2h-0.8zM680.27 119.09h0.8v1.2h-0.8z" fill="#fff" opacity="0.6"/>
<path d="M680.73 108.65h1.2v1.2h-1.2zM681.22 119.62h1.2v1.2h-1.2zM681.45 79.86h1.2v1.2h-1.2zM681.24 104.45h1.2v1.2h-1.2zM681.56 97.14h1.2v1.2h-1.2zM681.28 76.46h1.2v1.2h-1.2zM681.38 163.00h1.2v1.2h-1.2zM681.68 131.00h1.2v1.2h-1.2zM681.21 129.24h1.2v1.2h-1.2zM681.29 103.15h1.2v1.2h-1.2zM681.44 143.55h1.2v1.2h-1.2zM680.60 99.12h1.2v1.2h-1.2zM681.44 119.12h1.2v1.2h-1.2zM681.24 93.52h1.2v1.2h-1.2zM681.55 148.50h1.2v1.2h-1.2zM680.75 95.84h1.2v1.2h-1.2zM681.15 109.12h1.2v1.2h-1.2zM681.43 115.86h1.2v1.2h-1.2zM681.29 78.38h1.2v1.2h-1.2zM680.74 108.70h1.2v1.2h-1.2zM681.15 92.15h1.2v1.2h-1.2zM681.06 140.82h1.2v1.2h-1.2zM680.72 156.60h1.2v1.2h-1.2zM680.70 135.19h1.2v1.2h-1.2zM681.26 143.34h1.2v1.2h-1.2zM681.20 144.63h1.2v1.2h-1.2zM681.70 150.94h1.2v1.2h-1.2zM681.37 100.96h1.2v1.2h-1.2zM681.35 145.43h1.2v1.2h-1.2zM681.20 123.55h1.2v1.2h-1.2zM680.93 108.84h1.2v1.2h-1.2zM680.61 134.47h1.2v1.2h-1.2zM681.63 88.58h1.2v1.2h-1.2zM680.64 91.06h1.2v1.2h-1.2z" fill="#fff" opacity="0.8"/>
<circle cx="631.65" cy="194.41" r="3.4" fill="#000"/>
<circle cx="680.39" cy="185.70" r="3.4" fill="#000"/>
</g>
<path d="M535.50 43.5V199.5M608.90 43.5V199.5M682.30 43.5V199.5M535.5 196.40H682.3M535.5 165.82H682.3M535.5 135.24H682.3M535.5 104.66H682.3M535.5 74.08H682.3M535.5 43.50H682.3" stroke="#b0b0b0" stroke-width="0.8" fill="none"/>
<path d="M535.5 43.5H682.3M535.5 199.5H682.3" stroke="#000" stroke-width="0.9" fill="none"/>
<path d="M535.5 43.1V199.9M682.3 43.1V199.9" stroke="#000" stroke-width="0.8" fill="none"/>
<path d="M535.50 199.5v3.6M608.90 199.5v3.6M682.30 199.5v3.6" stroke="#000" stroke-width="0.8" fill="none"/>
<text x="535.10" y="214.70" font-size="11.2" text-anchor="middle">−2</text>
<text x="608.50" y="214.70" font-size="11.2" text-anchor="middle">−1</text>
<text x="682.30" y="214.70" font-size="11.2" text-anchor="middle">0</text>
<text x="608.90" y="229.70" font-size="13" text-anchor="middle" textLength="38" lengthAdjust="spacingAndGlyphs">Energy</text>
<text x="608.90" y="37.9" font-size="12.5" text-anchor="middle"><tspan font-style="italic" font-size="15.5">t</tspan><tspan font-size="11" dy="2.6" dx="0.3">dyn</tspan><tspan dy="-2.6" dx="0.5"> = 20,000</tspan></text>
<text transform="translate(9.7 121.4) rotate(-90)" font-size="12.2" text-anchor="middle" textLength="112.4" lengthAdjust="spacingAndGlyphs">Angular Momentum</text>
<g clip-path="url(#c10)">
<path d="M50.83 438.50 L52.42 437.70 L54.82 437.24 L57.95 436.63 L61.67 435.88 L65.84 435.02 L70.30 434.07 L74.94 433.05 L79.64 431.97 L84.30 430.87 L88.86 429.74 L93.25 428.60 L97.45 427.46 L101.42 426.34 L105.17 425.22 L108.68 424.13 L111.96 423.07 L115.02 422.02 L117.86 421.01 L120.51 420.02 L122.96 419.06 L125.25 418.13 L127.37 417.22 L129.34 416.34 L131.18 415.49 L132.89 414.65 L134.48 413.85 L135.97 413.06 L137.37 412.30 L138.67 411.55 L139.89 410.83 L141.04 410.12 L142.12 409.43 L143.13 408.76 L144.09 408.10 L144.99 407.46 L145.84 406.83 L146.65 406.21 L147.41 405.61 L148.14 405.02 L148.83 404.44 L150.55 402.91 L153.92 399.46 L156.47 396.34 L158.46 393.48 L160.05 390.81 L161.35 388.31 L162.44 385.95 L163.37 383.71 L164.16 381.56 L164.84 379.51 L165.44 377.53 L165.98 375.61 L166.45 373.76 L166.87 371.97 L167.25 370.23 L167.60 368.53 L167.91 366.88 L168.20 365.26 L168.46 363.69 L168.71 362.14 L168.93 360.63 L169.14 359.15 L169.33 357.70 L169.51 356.28 L169.68 354.88 L169.83 353.50 L169.98 352.15 L170.12 350.81 L170.25 349.50 L170.37 348.21 L170.49 346.94 L170.60 345.68 L170.70 344.45 L170.80 343.23 L170.90 342.02 L170.99 340.83 L171.07 339.66 L171.15 338.49 L171.23 337.35 L171.31 336.21 L171.38 335.09 L171.45 333.98 L171.51 332.88 L171.57 331.80 L171.63 330.72 L171.69 329.66 L171.75 328.60 L171.80 327.56 L171.85 326.53 L171.90 325.50 L171.95 324.49 L172.00 323.48 L172.04 322.49 L172.08 321.50 L172.13 320.52 L174.02 320.72 L173.43 380.45 L172.70 392.70 L171.97 408.02 L170.50 421.50 L169.18 429.46 L167.57 434.06 L164.64 437.12 L160.97 438.65 L50.83 438.65Z" fill="#1f77b4"/>
<path d="M137.53 438.53h1v0.8h-1zM148.48 438.75h1v0.8h-1zM136.38 438.78h1v0.8h-1zM148.79 438.84h1v0.8h-1zM142.72 438.55h1v0.8h-1zM126.64 438.72h1v0.8h-1zM132.05 438.67h1v0.8h-1zM147.55 438.73h1v0.8h-1zM79.46 438.57h1v0.8h-1zM65.68 438.70h1v0.8h-1zM56.77 438.68h1v0.8h-1zM66.24 438.70h1v0.8h-1zM105.20 438.72h1v0.8h-1zM145.37 438.45h1v0.8h-1zM142.93 438.68h1v0.8h-1zM112.29 438.78h1v0.8h-1zM142.91 438.64h1v0.8h-1zM96.46 438.93h1v0.8h-1zM58.63 438.77h1v0.8h-1zM120.39 438.46h1v0.8h-1zM117.48 438.79h1v0.8h-1zM152.93 438.62h1v0.8h-1zM158.46 438.71h1v0.8h-1zM103.71 438.90h1v0.8h-1zM54.06 438.81h1v0.8h-1zM119.20 438.62h1v0.8h-1zM145.24 438.63h1v0.8h-1zM102.60 438.71h1v0.8h-1zM135.20 438.56h1v0.8h-1zM98.26 438.66h1v0.8h-1zM111.35 438.86h1v0.8h-1zM82.59 438.86h1v0.8h-1zM94.80 438.70h1v0.8h-1zM80.25 438.70h1v0.8h-1zM157.72 438.78h1v0.8h-1zM137.56 438.62h1v0.8h-1zM85.25 438.60h1v0.8h-1zM114.92 438.77h1v0.8h-1zM136.71 438.47h1v0.8h-1zM129.93 438.89h1v0.8h-1zM110.40 438.47h1v0.8h-1zM83.42 438.45h1v0.8h-1zM71.25 438.91h1v0.8h-1zM117.37 438.78h1v0.8h-1zM137.24 438.90h1v0.8h-1zM117.71 438.76h1v0.8h-1zM119.37 438.80h1v0.8h-1zM116.01 438.79h1v0.8h-1zM73.73 438.78h1v0.8h-1zM100.76 438.83h1v0.8h-1zM61.49 438.54h1v0.8h-1zM54.40 438.84h1v0.8h-1zM151.01 438.78h1v0.8h-1zM90.96 438.86h1v0.8h-1zM136.96 438.73h1v0.8h-1zM78.75 438.60h1v0.8h-1zM96.79 438.61h1v0.8h-1zM97.77 438.77h1v0.8h-1zM153.19 438.48h1v0.8h-1zM112.84 438.47h1v0.8h-1zM63.42 438.86h1v0.8h-1zM113.70 438.91h1v0.8h-1zM99.50 438.46h1v0.8h-1zM92.97 438.75h1v0.8h-1zM153.61 438.94h1v0.8h-1zM102.70 438.66h1v0.8h-1zM61.57 438.77h1v0.8h-1zM73.71 438.53h1v0.8h-1zM52.04 438.45h1v0.8h-1zM125.64 438.51h1v0.8h-1z" fill="#1f77b4" opacity="0.55"/>
<path d="M173.34 293.60h1.4v1.4h-1.4zM172.91 292.00h1.4v1.4h-1.4zM173.46 319.46h1.4v1.4h-1.4zM172.89 287.95h1.4v1.4h-1.4zM173.38 311.56h1.4v1.4h-1.4zM173.26 315.17h1.4v1.4h-1.4zM173.16 293.86h1.4v1.4h-1.4zM172.67 314.83h1.4v1.4h-1.4zM172.11 390.59h1.4v1.4h-1.4zM171.91 395.34h1.4v1.4h-1.4zM168.95 437.08h1.4v1.4h-1.4zM171.87 426.08h1.4v1.4h-1.4zM168.51 428.77h1.4v1.4h-1.4zM172.91 400.02h1.4v1.4h-1.4zM173.04 396.02h1.4v1.4h-1.4zM169.82 433.82h1.4v1.4h-1.4zM172.12 403.19h1.4v1.4h-1.4zM172.18 392.26h1.4v1.4h-1.4zM173.12 390.69h1.4v1.4h-1.4zM161.62 437.39h1.4v1.4h-1.4zM173.16 406.06h1.4v1.4h-1.4zM167.27 434.05h1.4v1.4h-1.4zM171.63 402.20h1.4v1.4h-1.4zM172.43 395.76h1.4v1.4h-1.4zM166.85 435.02h1.4v1.4h-1.4zM171.72 409.77h1.4v1.4h-1.4zM171.48 404.78h1.4v1.4h-1.4zM172.07 398.87h1.4v1.4h-1.4zM172.50 406.35h1.4v1.4h-1.4zM170.91 417.47h1.4v1.4h-1.4zM173.70 399.42h1.4v1.4h-1.4zM172.51 399.50h1.4v1.4h-1.4zM169.37 423.62h1.4v1.4h-1.4zM173.10 390.22h1.4v1.4h-1.4zM172.07 397.40h1.4v1.4h-1.4zM173.80 408.26h1.4v1.4h-1.4zM172.66 397.21h1.4v1.4h-1.4zM170.52 422.83h1.4v1.4h-1.4zM172.27 394.42h1.4v1.4h-1.4zM172.46 404.39h1.4v1.4h-1.4zM173.30 394.03h1.4v1.4h-1.4zM169.26 424.07h1.4v1.4h-1.4zM170.21 425.06h1.4v1.4h-1.4zM173.08 409.20h1.4v1.4h-1.4zM171.89 394.46h1.4v1.4h-1.4zM173.26 397.12h1.4v1.4h-1.4zM172.64 395.45h1.4v1.4h-1.4zM172.78 424.53h1.4v1.4h-1.4zM172.86 398.40h1.4v1.4h-1.4zM172.27 393.17h1.4v1.4h-1.4zM169.19 433.78h1.4v1.4h-1.4zM171.82 398.87h1.4v1.4h-1.4zM173.64 401.18h1.4v1.4h-1.4zM171.02 426.48h1.4v1.4h-1.4zM172.08 404.74h1.4v1.4h-1.4zM169.15 427.83h1.4v1.4h-1.4zM173.14 401.14h1.4v1.4h-1.4zM170.44 415.42h1.4v1.4h-1.4zM173.12 398.42h1.4v1.4h-1.4zM170.85 426.54h1.4v1.4h-1.4zM173.53 393.99h1.4v1.4h-1.4zM171.62 412.37h1.4v1.4h-1.4zM171.24 409.07h1.4v1.4h-1.4zM168.82 428.53h1.4v1.4h-1.4zM171.89 403.59h1.4v1.4h-1.4zM171.58 410.29h1.4v1.4h-1.4zM170.82 412.60h1.4v1.4h-1.4zM173.86 435.76h1.4v1.4h-1.4z" fill="#1f77b4"/>
<path d="M173.46 390.66h0.8v1.2h-0.8zM172.47 368.47h0.8v1.2h-0.8zM172.74 409.34h0.8v1.2h-0.8zM172.86 393.15h0.8v1.2h-0.8zM173.57 420.97h0.8v1.2h-0.8zM172.35 337.79h0.8v1.2h-0.8zM172.79 381.03h0.8v1.2h-0.8zM172.48 400.30h0.8v1.2h-0.8zM172.23 386.20h0.8v1.2h-0.8zM172.42 356.93h0.8v1.2h-0.8zM173.25 340.10h0.8v1.2h-0.8zM173.33 419.49h0.8v1.2h-0.8zM173.50 407.23h0.8v1.2h-0.8zM172.80 418.36h0.8v1.2h-0.8zM172.95 348.06h0.8v1.2h-0.8zM172.29 341.50h0.8v1.2h-0.8zM172.74 417.23h0.8v1.2h-0.8zM173.44 388.65h0.8v1.2h-0.8zM173.24 340.46h0.8v1.2h-0.8zM172.68 374.32h0.8v1.2h-0.8zM172.64 340.71h0.8v1.2h-0.8zM172.96 389.02h0.8v1.2h-0.8zM172.20 409.04h0.8v1.2h-0.8zM173.30 337.68h0.8v1.2h-0.8zM173.25 419.42h0.8v1.2h-0.8zM172.30 392.55h0.8v1.2h-0.8zM172.39 345.16h0.8v1.2h-0.8zM172.47 418.70h0.8v1.2h-0.8z" fill="#fff" opacity="0.6"/>
<path d="M63.97 434.36l4.3 4.3M63.97 438.66l4.3 -4.3M70.35 433.90l4.3 4.3M70.35 438.20l4.3 -4.3M80.39 430.77l4.3 4.3M80.39 435.07l4.3 -4.3M81.49 433.90l4.3 4.3M81.49 438.20l4.3 -4.3M84.42 433.59l4.3 4.3M84.42 437.89l4.3 -4.3M87.72 431.91l4.3 4.3M87.72 436.21l4.3 -4.3M89.92 433.44l4.3 4.3M89.92 437.74l4.3 -4.3M91.39 427.31l4.3 4.3M91.39 431.61l4.3 -4.3M94.32 429.24l4.3 4.3M94.32 433.54l4.3 -4.3M96.66 427.49l4.3 4.3M96.66 431.79l4.3 -4.3M99.01 424.55l4.3 4.3M99.01 428.85l4.3 -4.3M101.94 423.94l4.3 4.3M101.94 428.24l4.3 -4.3M101.94 432.82l4.3 4.3M101.94 437.12l4.3 -4.3M104.29 424.55l4.3 4.3M104.29 428.85l4.3 -4.3M107.15 428.66l4.3 4.3M107.15 432.96l4.3 -4.3M108.98 423.33l4.3 4.3M108.98 427.63l4.3 -4.3M110.08 430.37l4.3 4.3M110.08 434.67l4.3 -4.3M111.91 433.44l4.3 4.3M111.91 437.74l4.3 -4.3M112.42 423.94l4.3 4.3M112.42 428.24l4.3 -4.3M113.60 428.66l4.3 4.3M113.60 432.96l4.3 -4.3M115.36 425.17l4.3 4.3M115.36 429.47l4.3 -4.3M118.29 424.55l4.3 4.3M118.29 428.85l4.3 -4.3M119.97 433.90l4.3 4.3M119.97 438.20l4.3 -4.3M120.63 421.64l4.3 4.3M120.63 425.94l4.3 -4.3M123.57 418.73l4.3 4.3M123.57 423.03l4.3 -4.3M124.15 430.99l4.3 4.3M124.15 435.29l4.3 -4.3M127.67 428.08l4.3 4.3M127.67 432.38l4.3 -4.3M129.36 423.33l4.3 4.3M129.36 427.63l4.3 -4.3M132.29 417.20l4.3 4.3M132.29 421.50l4.3 -4.3M146.36 403.17l4.3 4.3M146.36 407.47l4.3 -4.3M156.04 405.56l4.3 4.3M156.04 409.86l4.3 -4.3M155.67 409.39l4.3 4.3M155.67 413.69l4.3 -4.3M144.02 408.78l4.3 4.3M144.02 413.08l4.3 -4.3M141.67 411.08l4.3 4.3M141.67 415.38l4.3 -4.3M136.98 411.69l4.3 4.3M136.98 415.99l4.3 -4.3M141.08 416.41l4.3 4.3M141.08 420.71l4.3 -4.3M132.87 416.99l4.3 4.3M132.87 421.29l4.3 -4.3M149.07 416.04l4.3 4.3M149.07 420.34l4.3 -4.3M160.66 416.59l4.3 4.3M160.66 420.89l4.3 -4.3M161.75 415.06l4.3 4.3M161.75 419.36l4.3 -4.3M141.08 419.35l4.3 4.3M141.08 423.65l4.3 -4.3M138.15 422.23l4.3 4.3M138.15 426.53l4.3 -4.3M135.22 425.17l4.3 4.3M135.22 429.47l4.3 -4.3M144.53 424.92l4.3 4.3M144.53 429.22l4.3 -4.3M152.96 424.25l4.3 4.3M152.96 428.55l4.3 -4.3M154.43 423.02l4.3 4.3M154.43 427.32l4.3 -4.3M154.86 429.82l4.3 4.3M154.86 434.12l4.3 -4.3M154.86 431.60l4.3 4.3M154.86 435.90l4.3 -4.3M164.69 383.82l4.3 4.3M164.69 388.12l4.3 -4.3" stroke="#ff7f0e" stroke-width="1.6" fill="none"/>
</g>
<path d="M28.30 285.5V442.0M101.60 285.5V442.0M174.90 285.5V442.0M28.3 438.65H174.9M28.3 408.02H174.9M28.3 377.39H174.9M28.3 346.76H174.9M28.3 316.13H174.9M28.3 285.50H174.9" stroke="#b0b0b0" stroke-width="0.8" fill="none"/>
<path d="M28.3 285.5H174.9M28.3 442.0H174.9" stroke="#000" stroke-width="0.9" fill="none"/>
<path d="M28.3 285.1V442.4M174.9 285.1V442.4" stroke="#000" stroke-width="0.8" fill="none"/>
<path d="M28.30 442.0v3.6M101.60 442.0v3.6M174.90 442.0v3.6M28.3 438.65h-3.6M28.3 408.02h-3.6M28.3 377.39h-3.6M28.3 346.76h-3.6M28.3 316.13h-3.6M28.3 285.50h-3.6" stroke="#000" stroke-width="0.8" fill="none"/>
<text x="27.90" y="457.20" font-size="11.2" text-anchor="middle">−2</text>
<text x="101.20" y="457.20" font-size="11.2" text-anchor="middle">−1</text>
<text x="174.90" y="457.20" font-size="11.2" text-anchor="middle">0</text>
<text x="21.70" y="442.65" font-size="11.2" text-anchor="end">0</text>
<text x="21.70" y="412.02" font-size="11.2" text-anchor="end">1</text>
<text x="21.70" y="381.39" font-size="11.2" text-anchor="end">2</text>
<text x="21.70" y="350.76" font-size="11.2" text-anchor="end">3</text>
<text x="21.70" y="320.13" font-size="11.2" text-anchor="end">4</text>
<text x="21.70" y="289.50" font-size="11.2" text-anchor="end">5</text>
<text x="101.60" y="472.20" font-size="13" text-anchor="middle" textLength="38" lengthAdjust="spacingAndGlyphs">Energy</text>
<text x="101.60" y="279.9" font-size="12.5" text-anchor="middle"><tspan font-style="italic" font-size="15.5">t</tspan><tspan font-size="11" dy="2.6" dx="0.3">dyn</tspan><tspan dy="-2.6" dx="0.5"> = 0</tspan></text>
<g clip-path="url(#c11)">
<path d="M215.36 438.50 L217.13 438.06 L218.89 437.63 L220.63 437.23 L222.36 436.84 L224.08 436.46 L225.78 436.09 L227.47 435.72 L229.15 435.35 L230.82 434.99 L232.47 434.63 L234.11 434.27 L235.73 433.91 L237.34 433.55 L238.94 433.19 L240.52 432.83 L242.10 432.46 L243.66 432.10 L245.20 431.74 L246.73 431.37 L248.25 431.01 L249.76 430.65 L251.25 430.28 L252.73 429.92 L254.20 429.56 L255.66 429.21 L257.10 428.85 L258.53 428.50 L259.94 428.15 L261.34 427.80 L262.73 427.45 L264.11 427.11 L265.48 426.77 L266.83 426.43 L268.16 426.09 L269.49 425.76 L270.80 425.42 L272.10 425.09 L273.39 424.76 L274.67 424.43 L275.93 424.11 L277.18 423.78 L278.41 423.45 L279.64 423.12 L280.85 422.79 L282.05 422.45 L283.23 422.12 L284.41 421.78 L285.57 421.44 L286.72 421.09 L287.86 420.74 L288.98 420.38 L290.09 420.02 L291.19 419.65 L292.28 419.28 L293.35 418.89 L294.41 418.50 L295.46 418.11 L296.50 417.70 L297.53 417.28 L298.54 416.85 L299.54 416.42 L300.53 415.97 L301.50 415.51 L302.47 415.04 L303.42 414.56 L304.36 414.06 L305.29 413.56 L306.21 413.04 L307.11 412.51 L308.00 411.96 L308.88 411.40 L309.75 410.83 L310.61 410.24 L311.45 409.64 L312.28 409.03 L313.10 408.40 L313.91 407.76 L314.71 407.10 L315.50 406.43 L316.27 405.74 L317.03 405.04 L317.78 404.33 L318.52 403.59 L319.25 402.85 L319.97 402.08 L320.67 401.31 L321.36 400.51 L322.04 399.70 L322.71 398.87 L323.37 398.03 L324.02 397.17 L324.66 396.29 L325.28 395.39 L325.89 394.47 L326.50 393.54 L327.09 392.58 L327.67 391.61 L328.24 390.61 L328.79 389.59 L329.34 388.55 L329.88 387.48 L330.40 386.38 L330.91 385.26 L331.42 384.11 L331.91 382.93 L332.39 381.71 L332.86 380.47 L333.32 379.18 L333.77 377.85 L334.21 376.48 L334.63 375.07 L335.05 373.61 L335.46 372.09 L335.85 370.52 L336.24 368.88 L336.61 367.18 L336.98 365.40 L337.33 363.55 L337.68 361.61 L338.01 359.58 L338.34 357.45 L338.65 355.20 L338.96 352.84 L339.25 350.34 L339.53 347.69 L339.81 344.89 L340.07 341.90 L340.33 338.72 L340.57 335.32 L340.81 331.67 L341.03 327.75 L341.25 323.53 L341.46 320.57 L343.26 320.72 L343.26 392.70 L342.53 408.02 L340.91 420.88 L338.71 430.38 L334.67 438.65 L215.36 438.65Z" fill="#1f77b4"/>
<path d="M234.97 438.57h1v0.8h-1zM231.94 438.79h1v0.8h-1zM216.36 438.81h1v0.8h-1zM238.14 438.47h1v0.8h-1zM325.54 438.56h1v0.8h-1zM326.29 438.88h1v0.8h-1zM320.89 438.52h1v0.8h-1zM268.22 438.50h1v0.8h-1zM325.67 438.87h1v0.8h-1zM289.83 438.68h1v0.8h-1zM255.40 438.86h1v0.8h-1zM271.83 438.76h1v0.8h-1zM231.89 438.56h1v0.8h-1zM221.62 438.81h1v0.8h-1zM280.88 438.52h1v0.8h-1zM318.75 438.58h1v0.8h-1zM263.99 438.53h1v0.8h-1zM247.20 438.87h1v0.8h-1zM254.77 438.53h1v0.8h-1zM273.44 438.61h1v0.8h-1zM322.62 438.51h1v0.8h-1zM331.62 438.48h1v0.8h-1zM321.65 438.78h1v0.8h-1zM240.05 438.69h1v0.8h-1zM249.01 438.58h1v0.8h-1zM238.91 438.63h1v0.8h-1zM333.10 438.95h1v0.8h-1zM325.23 438.50h1v0.8h-1zM249.39 438.90h1v0.8h-1zM221.71 438.81h1v0.8h-1zM249.88 438.94h1v0.8h-1zM216.77 438.85h1v0.8h-1zM255.53 438.52h1v0.8h-1zM215.09 438.87h1v0.8h-1zM277.69 438.54h1v0.8h-1zM266.79 438.91h1v0.8h-1zM240.90 438.74h1v0.8h-1zM231.33 438.54h1v0.8h-1zM306.78 438.81h1v0.8h-1zM238.33 438.49h1v0.8h-1zM225.29 438.75h1v0.8h-1zM273.97 438.59h1v0.8h-1zM239.44 438.76h1v0.8h-1zM299.30 438.86h1v0.8h-1zM284.41 438.55h1v0.8h-1zM222.69 438.82h1v0.8h-1zM263.55 438.81h1v0.8h-1zM221.46 438.86h1v0.8h-1zM254.85 438.87h1v0.8h-1zM318.01 438.70h1v0.8h-1zM216.70 438.91h1v0.8h-1zM271.72 438.89h1v0.8h-1zM246.63 438.54h1v0.8h-1zM314.08 438.63h1v0.8h-1zM234.36 438.64h1v0.8h-1zM285.84 438.45h1v0.8h-1zM276.88 438.67h1v0.8h-1zM276.38 438.51h1v0.8h-1zM300.12 438.86h1v0.8h-1zM318.12 438.61h1v0.8h-1zM299.71 438.64h1v0.8h-1zM304.50 438.48h1v0.8h-1zM319.00 438.93h1v0.8h-1zM273.89 438.71h1v0.8h-1zM278.15 438.72h1v0.8h-1zM217.32 438.93h1v0.8h-1zM241.55 438.54h1v0.8h-1zM227.11 438.58h1v0.8h-1zM312.36 438.47h1v0.8h-1zM226.37 438.80h1v0.8h-1z" fill="#1f77b4" opacity="0.55"/>
<path d="M341.85 295.68h1.4v1.4h-1.4zM342.37 286.22h1.4v1.4h-1.4zM341.75 315.06h1.4v1.4h-1.4zM341.82 287.80h1.4v1.4h-1.4zM341.89 309.77h1.4v1.4h-1.4zM342.32 294.02h1.4v1.4h-1.4zM342.19 308.91h1.4v1.4h-1.4zM341.99 315.77h1.4v1.4h-1.4zM338.31 428.39h1.4v1.4h-1.4zM342.14 408.57h1.4v1.4h-1.4zM342.11 412.32h1.4v1.4h-1.4zM341.50 432.91h1.4v1.4h-1.4zM342.05 402.81h1.4v1.4h-1.4zM338.71 431.92h1.4v1.4h-1.4zM341.27 413.41h1.4v1.4h-1.4zM338.18 431.97h1.4v1.4h-1.4zM339.55 431.24h1.4v1.4h-1.4zM342.40 395.75h1.4v1.4h-1.4zM342.33 409.88h1.4v1.4h-1.4zM341.48 429.90h1.4v1.4h-1.4zM340.94 418.90h1.4v1.4h-1.4zM342.51 396.80h1.4v1.4h-1.4zM342.62 418.56h1.4v1.4h-1.4zM342.29 399.88h1.4v1.4h-1.4zM339.45 426.17h1.4v1.4h-1.4zM342.79 416.60h1.4v1.4h-1.4zM342.77 398.53h1.4v1.4h-1.4zM342.71 398.01h1.4v1.4h-1.4zM337.73 435.33h1.4v1.4h-1.4zM342.58 392.16h1.4v1.4h-1.4zM341.63 417.26h1.4v1.4h-1.4zM341.12 420.09h1.4v1.4h-1.4zM337.37 434.56h1.4v1.4h-1.4zM341.09 413.21h1.4v1.4h-1.4zM342.57 431.12h1.4v1.4h-1.4zM342.79 399.89h1.4v1.4h-1.4zM342.55 406.92h1.4v1.4h-1.4zM342.78 394.61h1.4v1.4h-1.4zM338.59 436.27h1.4v1.4h-1.4zM341.05 424.93h1.4v1.4h-1.4zM340.49 424.55h1.4v1.4h-1.4zM342.68 392.65h1.4v1.4h-1.4zM340.23 425.67h1.4v1.4h-1.4zM342.68 416.70h1.4v1.4h-1.4zM339.83 423.86h1.4v1.4h-1.4zM341.91 406.22h1.4v1.4h-1.4zM342.77 408.83h1.4v1.4h-1.4zM341.33 412.77h1.4v1.4h-1.4zM341.54 415.09h1.4v1.4h-1.4zM337.68 430.68h1.4v1.4h-1.4zM337.83 431.51h1.4v1.4h-1.4zM340.77 418.03h1.4v1.4h-1.4zM338.92 426.02h1.4v1.4h-1.4zM342.47 411.18h1.4v1.4h-1.4zM342.17 408.06h1.4v1.4h-1.4zM341.95 406.08h1.4v1.4h-1.4zM342.25 403.14h1.4v1.4h-1.4zM342.01 411.09h1.4v1.4h-1.4zM341.14 414.97h1.4v1.4h-1.4zM339.16 426.08h1.4v1.4h-1.4zM341.47 412.84h1.4v1.4h-1.4zM341.59 409.25h1.4v1.4h-1.4zM342.24 420.67h1.4v1.4h-1.4zM340.30 426.26h1.4v1.4h-1.4zM341.23 413.87h1.4v1.4h-1.4z" fill="#1f77b4"/>
<path d="M341.44 397.39h0.8v1.2h-0.8zM342.47 409.14h0.8v1.2h-0.8zM341.92 348.01h0.8v1.2h-0.8zM342.00 417.42h0.8v1.2h-0.8zM341.49 385.01h0.8v1.2h-0.8zM342.24 413.37h0.8v1.2h-0.8zM341.48 340.46h0.8v1.2h-0.8zM342.07 409.48h0.8v1.2h-0.8zM341.58 392.51h0.8v1.2h-0.8zM341.32 369.88h0.8v1.2h-0.8zM341.81 352.31h0.8v1.2h-0.8zM341.48 359.38h0.8v1.2h-0.8zM341.87 357.58h0.8v1.2h-0.8zM341.53 355.42h0.8v1.2h-0.8zM342.38 344.29h0.8v1.2h-0.8zM342.56 348.05h0.8v1.2h-0.8zM341.71 357.07h0.8v1.2h-0.8zM341.16 380.03h0.8v1.2h-0.8zM341.96 373.68h0.8v1.2h-0.8zM341.29 355.52h0.8v1.2h-0.8zM342.01 370.65h0.8v1.2h-0.8zM341.90 383.95h0.8v1.2h-0.8zM342.14 360.72h0.8v1.2h-0.8zM341.75 389.23h0.8v1.2h-0.8zM342.10 389.76h0.8v1.2h-0.8zM341.32 355.23h0.8v1.2h-0.8zM341.92 379.89h0.8v1.2h-0.8zM342.12 406.94h0.8v1.2h-0.8z" fill="#fff" opacity="0.6"/>
<path d="M342.57 397.38h1.2v1.2h-1.2zM343.15 357.93h1.2v1.2h-1.2zM342.87 327.34h1.2v1.2h-1.2zM342.27 334.28h1.2v1.2h-1.2zM343.01 323.85h1.2v1.2h-1.2zM342.18 371.95h1.2v1.2h-1.2zM343.19 409.52h1.2v1.2h-1.2zM342.67 359.44h1.2v1.2h-1.2zM342.34 327.33h1.2v1.2h-1.2zM342.08 361.82h1.2v1.2h-1.2zM342.64 363.73h1.2v1.2h-1.2zM342.79 348.57h1.2v1.2h-1.2zM342.55 378.16h1.2v1.2h-1.2zM342.14 378.76h1.2v1.2h-1.2zM342.63 349.36h1.2v1.2h-1.2zM342.81 401.54h1.2v1.2h-1.2zM342.59 374.26h1.2v1.2h-1.2zM342.22 358.61h1.2v1.2h-1.2zM342.68 323.33h1.2v1.2h-1.2zM342.52 370.71h1.2v1.2h-1.2zM342.85 320.47h1.2v1.2h-1.2zM342.29 362.58h1.2v1.2h-1.2zM342.88 395.06h1.2v1.2h-1.2zM342.28 322.07h1.2v1.2h-1.2zM343.12 364.17h1.2v1.2h-1.2zM342.44 329.66h1.2v1.2h-1.2zM342.09 336.34h1.2v1.2h-1.2zM342.76 330.23h1.2v1.2h-1.2zM342.91 396.35h1.2v1.2h-1.2zM342.66 364.26h1.2v1.2h-1.2zM343.04 393.49h1.2v1.2h-1.2zM342.54 353.55h1.2v1.2h-1.2zM342.08 378.57h1.2v1.2h-1.2zM343.20 352.97h1.2v1.2h-1.2z" fill="#fff" opacity="0.8"/>
<rect x="197.00" y="437.15" width="32.82" height="3.0" fill="#ff7f0e" opacity="0.85"/>
<path d="M196.00 436.24l4.0 4.0M196.00 440.24l4.0 -4.0M198.25 436.34l4.0 4.0M198.25 440.34l4.0 -4.0M200.37 436.65l4.0 4.0M200.37 440.65l4.0 -4.0M202.04 435.81l4.0 4.0M202.04 439.81l4.0 -4.0M204.04 435.98l4.0 4.0M204.04 439.98l4.0 -4.0M205.58 436.15l4.0 4.0M205.58 440.15l4.0 -4.0M207.54 436.38l4.0 4.0M207.54 440.38l4.0 -4.0M209.62 436.12l4.0 4.0M209.62 440.12l4.0 -4.0M212.12 436.08l4.0 4.0M212.12 440.08l4.0 -4.0M213.91 436.53l4.0 4.0M213.91 440.53l4.0 -4.0M215.40 435.89l4.0 4.0M215.40 439.89l4.0 -4.0M216.82 436.55l4.0 4.0M216.82 440.55l4.0 -4.0M218.33 436.13l4.0 4.0M218.33 440.13l4.0 -4.0M220.62 436.04l4.0 4.0M220.62 440.04l4.0 -4.0M222.89 436.59l4.0 4.0M222.89 440.59l4.0 -4.0M224.20 435.88l4.0 4.0M224.20 439.88l4.0 -4.0M225.89 435.93l4.0 4.0M225.89 439.93l4.0 -4.0" stroke="#ff7f0e" stroke-width="1.2" fill="none"/>
<path d="M231.56 432.64l4.3 4.3M231.56 436.94l4.3 -4.3M240.15 432.21l4.3 4.3M240.15 436.51l4.3 -4.3M242.87 430.99l4.3 4.3M242.87 435.29l4.3 -4.3M256.53 428.66l4.3 4.3M256.53 432.96l4.3 -4.3M264.24 426.58l4.3 4.3M264.24 430.88l4.3 -4.3M270.48 429.46l4.3 4.3M270.48 433.76l4.3 -4.3M271.95 429.15l4.3 4.3M271.95 433.45l4.3 -4.3M279.88 423.94l4.3 4.3M279.88 428.24l4.3 -4.3M287.15 424.25l4.3 4.3M287.15 428.55l4.3 -4.3M289.20 429.24l4.3 4.3M289.20 433.54l4.3 -4.3M291.77 419.65l4.3 4.3M291.77 423.95l4.3 -4.3M297.65 414.45l4.3 4.3M297.65 418.75l4.3 -4.3M301.46 432.21l4.3 4.3M301.46 436.51l4.3 -4.3M306.46 410.46l4.3 4.3M306.46 414.76l4.3 -4.3M308.14 414.63l4.3 4.3M308.14 418.93l4.3 -4.3M310.49 407.62l4.3 4.3M310.49 411.92l4.3 -4.3M313.95 410.89l4.3 4.3M313.95 415.19l4.3 -4.3M309.32 419.65l4.3 4.3M309.32 423.95l4.3 -4.3M312.33 419.96l4.3 4.3M312.33 424.26l4.3 -4.3M318.35 427.16l4.3 4.3M318.35 431.46l4.3 -4.3M333.04 385.04l4.3 4.3M333.04 389.34l4.3 -4.3" stroke="#ff7f0e" stroke-width="1.6" fill="none"/>
<circle cx="203.24" cy="438.65" r="3.4" fill="#000"/>
</g>
<path d="M197.00 285.5V442.0M270.43 285.5V442.0M343.85 285.5V442.0M197.0 438.65H343.85M197.0 408.02H343.85M197.0 377.39H343.85M197.0 346.76H343.85M197.0 316.13H343.85M197.0 285.50H343.85" stroke="#b0b0b0" stroke-width="0.8" fill="none"/>
<path d="M197.0 285.5H343.85M197.0 442.0H343.85" stroke="#000" stroke-width="0.9" fill="none"/>
<path d="M197.0 285.1V442.4M343.85 285.1V442.4" stroke="#000" stroke-width="0.8" fill="none"/>
<path d="M197.00 442.0v3.6M270.43 442.0v3.6M343.85 442.0v3.6" stroke="#000" stroke-width="0.8" fill="none"/>
<text x="196.60" y="457.20" font-size="11.2" text-anchor="middle">−2</text>
<text x="270.03" y="457.20" font-size="11.2" text-anchor="middle">−1</text>
<text x="343.85" y="457.20" font-size="11.2" text-anchor="middle">0</text>
<text x="270.43" y="472.20" font-size="13" text-anchor="middle" textLength="38" lengthAdjust="spacingAndGlyphs">Energy</text>
<text x="270.43" y="279.9" font-size="12.5" text-anchor="middle"><tspan font-style="italic" font-size="15.5">t</tspan><tspan font-size="11" dy="2.6" dx="0.3">dyn</tspan><tspan dy="-2.6" dx="0.5"> = 500</tspan></text>
<g clip-path="url(#c12)">
<path d="M417.61 438.50 L418.93 438.19 L420.24 437.86 L421.54 437.51 L422.83 437.14 L424.11 436.76 L425.38 436.36 L426.65 435.95 L427.90 435.53 L429.14 435.10 L430.37 434.67 L431.59 434.22 L432.80 433.78 L434.01 433.33 L435.20 432.88 L436.38 432.42 L437.55 431.97 L438.72 431.52 L439.87 431.06 L441.01 430.61 L442.15 430.16 L443.27 429.71 L444.38 429.26 L445.49 428.81 L446.58 428.37 L447.67 427.92 L448.74 427.48 L449.81 427.05 L450.86 426.61 L451.91 426.18 L452.95 425.75 L453.97 425.32 L454.99 424.89 L456.00 424.47 L457.00 424.05 L457.99 423.62 L458.97 423.20 L459.93 422.79 L460.90 422.37 L461.85 421.95 L462.79 421.53 L463.72 421.12 L464.64 420.70 L465.55 420.28 L466.46 419.86 L467.35 419.45 L468.24 419.03 L469.11 418.60 L469.98 418.18 L470.84 417.75 L471.68 417.32 L472.52 416.89 L473.35 416.46 L474.17 416.02 L474.98 415.57 L475.78 415.12 L476.58 414.67 L477.36 414.21 L478.13 413.75 L478.90 413.28 L479.65 412.81 L480.40 412.32 L481.14 411.84 L481.86 411.34 L482.58 410.83 L483.29 410.32 L484.00 409.80 L484.69 409.27 L485.37 408.73 L486.05 408.18 L486.71 407.62 L487.37 407.05 L488.02 406.46 L488.65 405.87 L489.28 405.26 L489.90 404.64 L490.52 404.00 L491.12 403.35 L491.72 402.69 L492.30 402.01 L492.88 401.31 L493.45 400.60 L494.01 399.87 L494.56 399.12 L495.10 398.35 L495.63 397.56 L496.16 396.75 L496.68 395.92 L497.19 395.06 L497.68 394.19 L498.18 393.28 L498.66 392.35 L499.13 391.40 L499.60 390.41 L500.06 389.40 L500.51 388.35 L500.95 387.27 L501.38 386.16 L501.80 385.01 L502.22 383.82 L502.63 382.59 L503.03 381.32 L503.42 380.01 L503.80 378.64 L504.18 377.23 L504.54 375.77 L504.90 374.25 L505.25 372.68 L505.60 371.04 L505.93 369.34 L506.26 367.56 L506.58 365.71 L506.89 363.79 L507.19 361.78 L507.49 359.68 L507.77 357.48 L508.05 355.18 L508.33 352.77 L508.59 350.24 L508.85 347.58 L509.10 344.78 L509.34 341.84 L509.57 338.73 L509.80 335.45 L510.02 331.97 L510.23 331.30 L512.86 331.44 L512.86 429.46 L512.57 438.65 L417.61 438.65Z" fill="#1f77b4"/>
<path d="M422.30 438.90h1v0.8h-1zM472.44 438.93h1v0.8h-1zM458.85 438.76h1v0.8h-1zM440.78 438.47h1v0.8h-1zM505.50 438.88h1v0.8h-1zM447.00 438.90h1v0.8h-1zM494.58 438.60h1v0.8h-1zM474.32 438.93h1v0.8h-1zM464.16 438.92h1v0.8h-1zM440.18 438.64h1v0.8h-1zM485.33 438.56h1v0.8h-1zM446.46 438.89h1v0.8h-1zM463.10 438.85h1v0.8h-1zM440.22 438.54h1v0.8h-1zM451.14 438.54h1v0.8h-1zM509.36 438.60h1v0.8h-1zM470.43 438.51h1v0.8h-1zM467.79 438.64h1v0.8h-1zM455.39 438.48h1v0.8h-1zM428.81 438.86h1v0.8h-1zM450.46 438.57h1v0.8h-1zM435.26 438.59h1v0.8h-1zM439.63 438.47h1v0.8h-1zM480.19 438.62h1v0.8h-1zM431.91 438.80h1v0.8h-1zM425.90 438.58h1v0.8h-1zM496.40 438.51h1v0.8h-1zM459.20 438.87h1v0.8h-1zM493.54 438.53h1v0.8h-1zM450.62 438.81h1v0.8h-1zM452.90 438.93h1v0.8h-1zM436.86 438.93h1v0.8h-1zM465.05 438.56h1v0.8h-1zM460.09 438.52h1v0.8h-1zM484.19 438.58h1v0.8h-1zM502.53 438.74h1v0.8h-1zM452.05 438.57h1v0.8h-1zM474.86 438.56h1v0.8h-1zM499.95 438.51h1v0.8h-1zM465.82 438.72h1v0.8h-1zM442.78 438.84h1v0.8h-1zM453.65 438.78h1v0.8h-1zM471.01 438.61h1v0.8h-1zM454.13 438.49h1v0.8h-1zM433.92 438.88h1v0.8h-1zM447.59 438.78h1v0.8h-1zM427.45 438.73h1v0.8h-1zM451.43 438.70h1v0.8h-1zM445.31 438.48h1v0.8h-1zM446.67 438.56h1v0.8h-1zM429.08 438.81h1v0.8h-1zM443.92 438.65h1v0.8h-1zM503.42 438.84h1v0.8h-1zM500.93 438.88h1v0.8h-1zM429.66 438.59h1v0.8h-1zM419.92 438.79h1v0.8h-1zM480.12 438.63h1v0.8h-1zM456.28 438.78h1v0.8h-1zM483.51 438.57h1v0.8h-1zM497.51 438.63h1v0.8h-1zM476.82 438.54h1v0.8h-1zM428.05 438.91h1v0.8h-1zM486.81 438.81h1v0.8h-1zM420.95 438.47h1v0.8h-1zM432.49 438.55h1v0.8h-1zM445.89 438.64h1v0.8h-1zM420.83 438.61h1v0.8h-1zM477.72 438.54h1v0.8h-1zM496.82 438.74h1v0.8h-1zM485.16 438.58h1v0.8h-1z" fill="#1f77b4" opacity="0.55"/>
<path d="M511.78 328.51h1.4v1.4h-1.4zM511.21 329.44h1.4v1.4h-1.4zM511.70 323.08h1.4v1.4h-1.4zM511.67 324.82h1.4v1.4h-1.4zM512.30 437.90h1.4v1.4h-1.4zM512.33 435.84h1.4v1.4h-1.4zM511.99 435.63h1.4v1.4h-1.4zM512.32 432.50h1.4v1.4h-1.4zM512.25 433.73h1.4v1.4h-1.4zM512.41 433.54h1.4v1.4h-1.4zM512.22 435.29h1.4v1.4h-1.4zM512.31 431.69h1.4v1.4h-1.4zM512.22 435.81h1.4v1.4h-1.4zM512.05 435.04h1.4v1.4h-1.4zM512.29 431.26h1.4v1.4h-1.4zM512.23 431.00h1.4v1.4h-1.4zM512.29 429.66h1.4v1.4h-1.4z" fill="#1f77b4"/>
<path d="M511.04 383.18h0.8v1.2h-0.8zM512.00 351.45h0.8v1.2h-0.8zM511.63 397.92h0.8v1.2h-0.8zM512.08 405.03h0.8v1.2h-0.8zM511.87 398.65h0.8v1.2h-0.8zM511.50 362.56h0.8v1.2h-0.8zM511.69 413.04h0.8v1.2h-0.8zM511.63 382.54h0.8v1.2h-0.8zM512.06 408.32h0.8v1.2h-0.8zM510.70 421.81h0.8v1.2h-0.8zM512.04 358.37h0.8v1.2h-0.8zM510.72 361.23h0.8v1.2h-0.8zM512.00 374.39h0.8v1.2h-0.8zM511.53 380.81h0.8v1.2h-0.8zM511.36 406.46h0.8v1.2h-0.8zM510.81 422.02h0.8v1.2h-0.8zM511.24 367.46h0.8v1.2h-0.8zM511.20 342.52h0.8v1.2h-0.8zM511.80 401.17h0.8v1.2h-0.8zM512.12 410.84h0.8v1.2h-0.8zM510.93 356.32h0.8v1.2h-0.8zM511.89 397.32h0.8v1.2h-0.8zM510.92 368.01h0.8v1.2h-0.8zM511.92 343.26h0.8v1.2h-0.8zM510.94 355.44h0.8v1.2h-0.8zM511.68 359.07h0.8v1.2h-0.8zM510.95 406.91h0.8v1.2h-0.8zM511.62 395.28h0.8v1.2h-0.8z" fill="#fff" opacity="0.6"/>
<path d="M512.41 366.59h1.2v1.2h-1.2zM512.57 344.27h1.2v1.2h-1.2zM512.18 407.20h1.2v1.2h-1.2zM511.88 360.45h1.2v1.2h-1.2zM511.78 354.29h1.2v1.2h-1.2zM512.27 335.23h1.2v1.2h-1.2zM512.66 370.70h1.2v1.2h-1.2zM512.16 386.63h1.2v1.2h-1.2zM512.04 404.09h1.2v1.2h-1.2zM512.33 397.45h1.2v1.2h-1.2zM512.74 333.25h1.2v1.2h-1.2zM512.33 407.30h1.2v1.2h-1.2zM512.00 395.29h1.2v1.2h-1.2zM511.86 410.26h1.2v1.2h-1.2zM511.92 342.37h1.2v1.2h-1.2zM512.52 376.60h1.2v1.2h-1.2zM512.24 357.79h1.2v1.2h-1.2zM512.45 376.94h1.2v1.2h-1.2zM512.06 375.55h1.2v1.2h-1.2zM511.78 344.70h1.2v1.2h-1.2zM512.50 397.39h1.2v1.2h-1.2zM512.19 375.19h1.2v1.2h-1.2zM512.62 382.76h1.2v1.2h-1.2zM512.47 403.71h1.2v1.2h-1.2zM511.70 373.81h1.2v1.2h-1.2zM511.83 338.12h1.2v1.2h-1.2zM511.72 332.89h1.2v1.2h-1.2zM511.89 361.12h1.2v1.2h-1.2zM512.05 405.70h1.2v1.2h-1.2zM512.50 361.97h1.2v1.2h-1.2zM511.73 365.00h1.2v1.2h-1.2zM512.09 372.20h1.2v1.2h-1.2zM512.44 386.65h1.2v1.2h-1.2zM512.82 340.00h1.2v1.2h-1.2z" fill="#fff" opacity="0.8"/>
<path d="M413.25 436.50l4.3 4.3M413.25 440.80l4.3 -4.3M415.46 436.50l4.3 4.3M415.46 440.80l4.3 -4.3M420.47 434.05l4.3 4.3M420.47 438.35l4.3 -4.3M427.47 433.74l4.3 4.3M427.47 438.04l4.3 -4.3M469.42 434.36l4.3 4.3M469.42 438.66l4.3 -4.3M491.39 400.05l4.3 4.3M491.39 404.35l4.3 -4.3" stroke="#ff7f0e" stroke-width="1.6" fill="none"/>
<circle cx="410.97" cy="438.65" r="3.4" fill="#000"/>
</g>
<path d="M366.00 285.5V442.0M439.73 285.5V442.0M513.45 285.5V442.0M366.0 438.65H513.45M366.0 408.02H513.45M366.0 377.39H513.45M366.0 346.76H513.45M366.0 316.13H513.45M366.0 285.50H513.45" stroke="#b0b0b0" stroke-width="0.8" fill="none"/>
<path d="M366.0 285.5H513.45M366.0 442.0H513.45" stroke="#000" stroke-width="0.9" fill="none"/>
<path d="M366.0 285.1V442.4M513.45 285.1V442.4" stroke="#000" stroke-width="0.8" fill="none"/>
<path d="M366.00 442.0v3.6M439.73 442.0v3.6M513.45 442.0v3.6" stroke="#000" stroke-width="0.8" fill="none"/>
<text x="365.60" y="457.20" font-size="11.2" text-anchor="middle">−2</text>
<text x="439.33" y="457.20" font-size="11.2" text-anchor="middle">−1</text>
<text x="513.45" y="457.20" font-size="11.2" text-anchor="middle">0</text>
<text x="439.73" y="472.20" font-size="13" text-anchor="middle" textLength="38" lengthAdjust="spacingAndGlyphs">Energy</text>
<text x="439.73" y="279.9" font-size="12.5" text-anchor="middle"><tspan font-style="italic" font-size="15.5">t</tspan><tspan font-size="11" dy="2.6" dx="0.3">dyn</tspan><tspan dy="-2.6" dx="0.5"> = 5,000</tspan></text>
<g clip-path="url(#c13)">
<path d="M570.00 438.50 L571.55 437.83 L573.08 437.28 L574.61 436.84 L576.12 436.48 L577.62 436.19 L579.11 435.95 L580.59 435.75 L582.05 435.58 L583.51 435.44 L584.95 435.30 L586.38 435.17 L587.80 435.04 L589.21 434.91 L590.61 434.77 L592.00 434.62 L593.37 434.46 L594.73 434.28 L596.08 434.08 L597.42 433.87 L598.75 433.65 L600.07 433.40 L601.37 433.14 L602.67 432.87 L603.95 432.58 L605.22 432.28 L606.48 431.96 L607.73 431.64 L608.97 431.30 L610.19 430.96 L611.41 430.60 L612.61 430.24 L613.80 429.88 L614.98 429.51 L616.15 429.14 L617.31 428.76 L618.46 428.38 L619.59 428.01 L620.72 427.63 L621.83 427.25 L622.94 426.88 L624.03 426.50 L625.11 426.13 L626.18 425.76 L627.24 425.39 L628.29 425.03 L629.32 424.66 L630.35 424.30 L631.36 423.94 L632.37 423.58 L633.36 423.23 L634.34 422.87 L635.32 422.52 L636.28 422.16 L637.23 421.81 L638.16 421.45 L639.09 421.09 L640.01 420.73 L640.92 420.37 L641.81 420.00 L642.70 419.62 L643.57 419.25 L644.44 418.86 L645.29 418.47 L646.13 418.07 L646.97 417.66 L647.79 417.24 L648.60 416.81 L649.40 416.38 L650.19 415.92 L650.97 415.46 L651.74 414.98 L652.50 414.49 L653.25 413.99 L653.98 413.46 L654.71 412.93 L655.43 412.37 L656.14 411.80 L656.83 411.20 L657.52 410.59 L658.20 409.96 L658.86 409.31 L659.52 408.64 L660.16 407.94 L660.80 407.22 L661.43 406.48 L662.04 405.71 L662.65 404.92 L663.24 404.11 L663.83 403.27 L664.40 402.40 L664.97 401.50 L665.52 400.57 L666.07 399.62 L666.61 398.63 L667.13 397.61 L667.65 396.56 L668.16 395.48 L668.65 394.36 L669.14 393.21 L669.62 392.01 L670.09 390.78 L670.54 389.51 L670.99 388.19 L671.43 386.83 L671.86 385.43 L672.28 383.97 L672.69 382.46 L673.10 380.90 L673.49 379.28 L673.87 377.60 L674.25 375.86 L674.61 374.05 L674.97 372.16 L675.31 370.20 L675.65 368.15 L675.98 366.02 L676.30 363.79 L676.61 361.45 L676.91 359.01 L677.20 356.45 L677.48 353.76 L677.76 351.20 L679.95 348.14 L680.69 302.20 L682.59 302.35 L682.59 438.65 L570.00 438.65Z" fill="#1f77b4"/>
<path d="M619.87 438.49h1v0.8h-1zM643.87 438.64h1v0.8h-1zM634.89 438.66h1v0.8h-1zM629.17 438.73h1v0.8h-1zM614.12 438.51h1v0.8h-1zM589.82 438.89h1v0.8h-1zM631.21 438.51h1v0.8h-1zM666.57 438.58h1v0.8h-1zM580.19 438.72h1v0.8h-1zM597.82 438.69h1v0.8h-1zM631.88 438.56h1v0.8h-1zM633.98 438.51h1v0.8h-1zM627.28 438.74h1v0.8h-1zM578.53 438.65h1v0.8h-1zM577.77 438.67h1v0.8h-1zM666.72 438.73h1v0.8h-1zM649.96 438.83h1v0.8h-1zM582.40 438.95h1v0.8h-1zM650.75 438.50h1v0.8h-1zM662.98 438.65h1v0.8h-1zM588.78 438.93h1v0.8h-1zM632.89 438.84h1v0.8h-1zM584.90 438.84h1v0.8h-1zM575.98 438.57h1v0.8h-1zM611.42 438.46h1v0.8h-1zM636.41 438.56h1v0.8h-1zM603.27 438.80h1v0.8h-1zM617.46 438.89h1v0.8h-1zM639.44 438.89h1v0.8h-1zM632.88 438.91h1v0.8h-1zM667.54 438.53h1v0.8h-1zM653.43 438.62h1v0.8h-1zM655.48 438.79h1v0.8h-1zM662.46 438.51h1v0.8h-1zM611.50 438.82h1v0.8h-1zM676.24 438.81h1v0.8h-1zM574.40 438.75h1v0.8h-1zM580.72 438.72h1v0.8h-1zM659.91 438.51h1v0.8h-1zM673.69 438.79h1v0.8h-1zM598.17 438.55h1v0.8h-1zM619.80 438.87h1v0.8h-1zM634.96 438.51h1v0.8h-1zM571.86 438.51h1v0.8h-1zM659.65 438.54h1v0.8h-1zM631.90 438.60h1v0.8h-1zM646.87 438.64h1v0.8h-1zM585.74 438.89h1v0.8h-1zM630.12 438.79h1v0.8h-1zM660.50 438.92h1v0.8h-1zM571.05 438.62h1v0.8h-1zM586.49 438.70h1v0.8h-1zM667.80 438.85h1v0.8h-1zM573.49 438.54h1v0.8h-1zM661.63 438.79h1v0.8h-1zM613.70 438.69h1v0.8h-1zM587.32 438.87h1v0.8h-1zM613.79 438.89h1v0.8h-1zM638.28 438.49h1v0.8h-1zM606.57 438.56h1v0.8h-1zM670.16 438.74h1v0.8h-1zM574.41 438.53h1v0.8h-1zM610.14 438.68h1v0.8h-1zM634.47 438.64h1v0.8h-1zM609.32 438.45h1v0.8h-1zM634.71 438.62h1v0.8h-1zM571.81 438.68h1v0.8h-1zM680.56 438.47h1v0.8h-1zM585.92 438.79h1v0.8h-1zM600.20 438.59h1v0.8h-1z" fill="#1f77b4" opacity="0.55"/>
<path d="M680.27 301.36h1.4v1.4h-1.4z" fill="#1f77b4"/>
<path d="M680.92 348.27h0.8v1.2h-0.8zM679.70 381.18h0.8v1.2h-0.8zM680.64 399.08h0.8v1.2h-0.8zM680.78 420.76h0.8v1.2h-0.8zM679.99 399.75h0.8v1.2h-0.8zM680.43 404.01h0.8v1.2h-0.8zM680.13 405.55h0.8v1.2h-0.8zM680.07 348.63h0.8v1.2h-0.8zM679.94 405.86h0.8v1.2h-0.8zM680.14 340.13h0.8v1.2h-0.8zM679.83 415.93h0.8v1.2h-0.8zM680.52 347.65h0.8v1.2h-0.8zM680.74 411.01h0.8v1.2h-0.8zM679.73 376.68h0.8v1.2h-0.8zM679.66 367.86h0.8v1.2h-0.8zM680.54 404.53h0.8v1.2h-0.8zM680.07 358.47h0.8v1.2h-0.8zM680.02 387.97h0.8v1.2h-0.8zM680.93 393.77h0.8v1.2h-0.8zM680.95 387.21h0.8v1.2h-0.8zM680.53 369.02h0.8v1.2h-0.8zM680.14 380.34h0.8v1.2h-0.8zM680.34 400.69h0.8v1.2h-0.8zM679.66 421.57h0.8v1.2h-0.8zM679.57 374.35h0.8v1.2h-0.8zM680.12 417.93h0.8v1.2h-0.8zM680.54 360.63h0.8v1.2h-0.8zM680.79 414.72h0.8v1.2h-0.8z" fill="#fff" opacity="0.6"/>
<path d="M680.80 394.97h1.2v1.2h-1.2zM680.74 400.71h1.2v1.2h-1.2zM681.07 364.46h1.2v1.2h-1.2zM681.05 346.49h1.2v1.2h-1.2zM680.99 339.00h1.2v1.2h-1.2zM680.83 374.51h1.2v1.2h-1.2zM680.86 382.45h1.2v1.2h-1.2zM680.79 327.48h1.2v1.2h-1.2zM680.79 376.86h1.2v1.2h-1.2zM681.17 304.21h1.2v1.2h-1.2zM681.09 380.23h1.2v1.2h-1.2zM681.55 308.17h1.2v1.2h-1.2zM681.14 409.50h1.2v1.2h-1.2zM680.79 339.22h1.2v1.2h-1.2zM680.54 371.07h1.2v1.2h-1.2zM680.81 385.67h1.2v1.2h-1.2zM681.67 400.71h1.2v1.2h-1.2zM681.63 395.90h1.2v1.2h-1.2zM681.05 355.91h1.2v1.2h-1.2zM680.60 390.71h1.2v1.2h-1.2zM681.52 370.73h1.2v1.2h-1.2zM680.83 391.19h1.2v1.2h-1.2zM681.51 310.29h1.2v1.2h-1.2zM680.79 407.32h1.2v1.2h-1.2zM680.55 384.11h1.2v1.2h-1.2zM680.95 356.23h1.2v1.2h-1.2zM680.76 373.05h1.2v1.2h-1.2zM681.32 360.45h1.2v1.2h-1.2zM681.57 312.24h1.2v1.2h-1.2zM681.62 330.74h1.2v1.2h-1.2zM681.23 340.30h1.2v1.2h-1.2zM681.63 316.53h1.2v1.2h-1.2zM681.22 349.13h1.2v1.2h-1.2zM680.59 310.54h1.2v1.2h-1.2z" fill="#fff" opacity="0.8"/>
<path d="M566.75 436.50l4.3 4.3M566.75 440.80l4.3 -4.3M567.48 436.50l4.3 4.3M567.48 440.80l4.3 -4.3" stroke="#ff7f0e" stroke-width="1.6" fill="none"/>
</g>
<path d="M535.50 285.5V442.0M608.90 285.5V442.0M682.30 285.5V442.0M535.5 438.65H682.3M535.5 408.02H682.3M535.5 377.39H682.3M535.5 346.76H682.3M535.5 316.13H682.3M535.5 285.50H682.3" stroke="#b0b0b0" stroke-width="0.8" fill="none"/>
<path d="M535.5 285.5H682.3M535.5 442.0H682.3" stroke="#000" stroke-width="0.9" fill="none"/>
<path d="M535.5 285.1V442.4M682.3 285.1V442.4" stroke="#000" stroke-width="0.8" fill="none"/>
<path d="M535.50 442.0v3.6M608.90 442.0v3.6M682.30 442.0v3.6" stroke="#000" stroke-width="0.8" fill="none"/>
<text x="535.10" y="457.20" font-size="11.2" text-anchor="middle">−2</text>
<text x="608.50" y="457.20" font-size="11.2" text-anchor="middle">−1</text>
<text x="682.30" y="457.20" font-size="11.2" text-anchor="middle">0</text>
<text x="608.90" y="472.20" font-size="13" text-anchor="middle" textLength="38" lengthAdjust="spacingAndGlyphs">Energy</text>
<text x="608.90" y="279.9" font-size="12.5" text-anchor="middle"><tspan font-style="italic" font-size="15.5">t</tspan><tspan font-size="11" dy="2.6" dx="0.3">dyn</tspan><tspan dy="-2.6" dx="0.5"> = 20,000</tspan></text>
<text transform="translate(9.7 363.6) rotate(-90)" font-size="12.2" text-anchor="middle" textLength="112.4" lengthAdjust="spacingAndGlyphs">Angular Momentum</text>
<text x="344.40" y="11.50" font-size="15.6" text-anchor="middle" textLength="130.6" lengthAdjust="spacingAndGlyphs">E versus J (NBODY)</text>
<text x="344.30" y="262.80" font-size="15.6" text-anchor="middle" textLength="118.6" lengthAdjust="spacingAndGlyphs">E versus J (Rapid)</text>
<rect x="33.4" y="48.9" width="97.4" height="53.8" rx="2" fill="#fff" fill-opacity="0.8" stroke="#ccc" stroke-width="0.8"/>
<rect x="49.6" y="58.5" width="1.4" height="1.4" fill="#1f77b4"/>
<path d="M48.2 73.7l4.2 4.2M48.2 77.9l4.2 -4.2" stroke="#ff7f0e" stroke-width="1.7"/>
<circle cx="50.3" cy="92.4" r="3.5" fill="#000"/>
<text x="71.60" y="62.70" font-size="11.5" text-anchor="start" textLength="23.5" lengthAdjust="spacingAndGlyphs">Stars</text>
<text x="71.60" y="79.50" font-size="11.5" text-anchor="start" textLength="18.3" lengthAdjust="spacingAndGlyphs">BHs</text>
<text x="71.60" y="96.10" font-size="11.5" text-anchor="start" textLength="54.6" lengthAdjust="spacingAndGlyphs">BH Binaries</text>
</svg>
</body></html>
